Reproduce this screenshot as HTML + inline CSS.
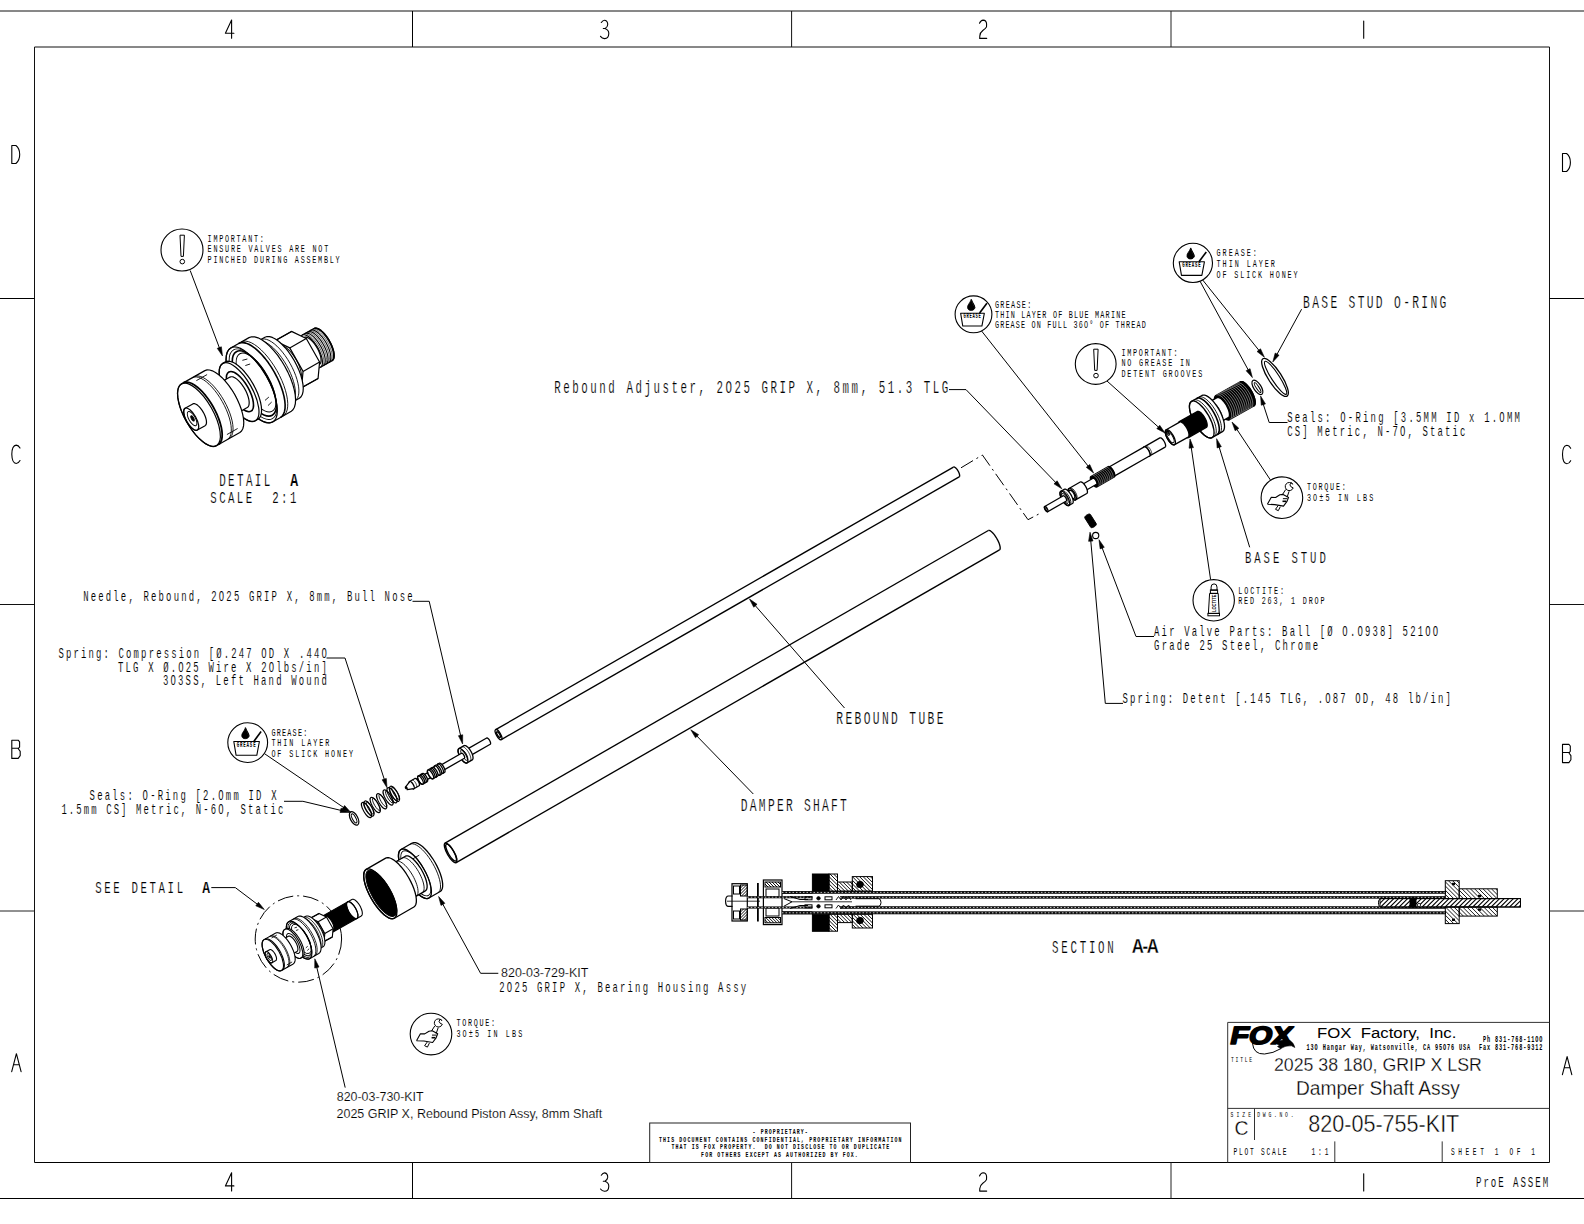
<!DOCTYPE html>
<html><head><meta charset="utf-8"><title>820-05-755-KIT</title>
<style>html,body{margin:0;padding:0;background:#fff;overflow:hidden}svg{display:block}text{white-space:pre}</style>
</head><body>
<svg width="1584" height="1224" viewBox="0 0 1584 1224">
<rect x="0" y="0" width="1584" height="1224" fill="#fff"/>
<g class="t">
<line x1="0" y1="11" x2="1584" y2="11" stroke="#111" stroke-width="1"/>
<line x1="0" y1="1198.5" x2="1584" y2="1198.5" stroke="#000" stroke-width="1"/>
<line x1="34.5" y1="47" x2="1549.5" y2="47" stroke="#111" stroke-width="1"/>
<line x1="34.5" y1="1162.5" x2="1549.5" y2="1162.5" stroke="#000" stroke-width="1"/>
<line x1="34.5" y1="47" x2="34.5" y2="1162.5" stroke="#111" stroke-width="1"/>
<line x1="1549.5" y1="47" x2="1549.5" y2="1162.5" stroke="#111" stroke-width="1"/>
<line x1="412.5" y1="11" x2="412.5" y2="47" stroke="#000" stroke-width="1"/>
<line x1="412.5" y1="1162.5" x2="412.5" y2="1198.5" stroke="#000" stroke-width="1"/>
<line x1="791.6" y1="11" x2="791.6" y2="47" stroke="#111" stroke-width="1"/>
<line x1="791.6" y1="1162.5" x2="791.6" y2="1198.5" stroke="#111" stroke-width="1"/>
<line x1="1171" y1="11" x2="1171" y2="47" stroke="#222" stroke-width="1"/>
<line x1="1171" y1="1162.5" x2="1171" y2="1198.5" stroke="#222" stroke-width="1"/>
<line x1="0" y1="298.5" x2="34.5" y2="298.5" stroke="#000" stroke-width="1"/>
<line x1="1549.5" y1="298.5" x2="1584" y2="298.5" stroke="#000" stroke-width="1"/>
<line x1="0" y1="604.5" x2="34.5" y2="604.5" stroke="#111" stroke-width="1"/>
<line x1="1549.5" y1="604.5" x2="1584" y2="604.5" stroke="#111" stroke-width="1"/>
<line x1="0" y1="911" x2="34.5" y2="911" stroke="#222" stroke-width="1"/>
<line x1="1549.5" y1="911" x2="1584" y2="911" stroke="#222" stroke-width="1"/>
<path d="M6.4,0.2 L0.2,13.3 L8.7,13.3 M6.4,0.2 L6.4,18.3" transform="translate(225.2 19.9)" stroke="#000" stroke-width="1.1" fill="none" stroke-linejoin="round" stroke-linecap="round"/>
<path d="M6.4,0.2 L0.2,13.3 L8.7,13.3 M6.4,0.2 L6.4,18.3" transform="translate(225.2 1172.6)" stroke="#000" stroke-width="1.1" fill="none" stroke-linejoin="round" stroke-linecap="round"/>
<path d="M1.0,2.6 Q2.6,0.2 4.4,0.3 Q7.6,1 7.4,4.8 Q7.1,7.6 4.6,8.6 L3.0,8.6 M4.6,8.6 Q8.6,10.2 8.5,13.6 Q8.3,18.8 4.2,18.7 Q1.8,18.5 0.2,16.4" transform="translate(600.3 19.9)" stroke="#000" stroke-width="1.1" fill="none" stroke-linejoin="round" stroke-linecap="round"/>
<path d="M1.0,2.6 Q2.6,0.2 4.4,0.3 Q7.6,1 7.4,4.8 Q7.1,7.6 4.6,8.6 L3.0,8.6 M4.6,8.6 Q8.6,10.2 8.5,13.6 Q8.3,18.8 4.2,18.7 Q1.8,18.5 0.2,16.4" transform="translate(600.3 1172.6)" stroke="#000" stroke-width="1.1" fill="none" stroke-linejoin="round" stroke-linecap="round"/>
<path d="M0.2,3.4 Q1.6,0.2 3.8,0.2 Q7.2,0.4 7.3,4.2 L7.2,7 Q6.6,8.6 3.5,10.6 Q0.6,12.8 0.5,16 L0.4,18.5 L7.4,18.5" transform="translate(979.3 19.9)" stroke="#000" stroke-width="1.1" fill="none" stroke-linejoin="round" stroke-linecap="round"/>
<path d="M0.2,3.4 Q1.6,0.2 3.8,0.2 Q7.2,0.4 7.3,4.2 L7.2,7 Q6.6,8.6 3.5,10.6 Q0.6,12.8 0.5,16 L0.4,18.5 L7.4,18.5" transform="translate(979.3 1172.6)" stroke="#000" stroke-width="1.1" fill="none" stroke-linejoin="round" stroke-linecap="round"/>
<path d="M0.3,1.2 L0.3,18.4" transform="translate(1363.4 19.9)" stroke="#000" stroke-width="1.1" fill="none" stroke-linejoin="round" stroke-linecap="round"/>
<path d="M0.3,1.2 L0.3,18.4" transform="translate(1363.4 1172.6)" stroke="#000" stroke-width="1.1" fill="none" stroke-linejoin="round" stroke-linecap="round"/>
<path d="M0.2,0.2 L0.2,18.2 L4.3,18.2 Q8.1,15.0 8.1,9.1 Q8.1,3.2 4.3,0.2 Z" transform="translate(11.6 145.3)" stroke="#000" stroke-width="1.1" fill="none" stroke-linejoin="round" stroke-linecap="round"/>
<path d="M0.2,0.2 L0.2,18.2 L4.3,18.2 Q8.1,15.0 8.1,9.1 Q8.1,3.2 4.3,0.2 Z" transform="translate(1562.3 153.3)" stroke="#000" stroke-width="1.1" fill="none" stroke-linejoin="round" stroke-linecap="round"/>
<path d="M8.4,3.2 Q6.8,0.2 4.6,0.2 Q0.3,0.6 0.2,9.4 Q0.4,18.4 4.6,18.6 Q6.8,18.6 8.4,15.6" transform="translate(11.6 444.9)" stroke="#000" stroke-width="1.1" fill="none" stroke-linejoin="round" stroke-linecap="round"/>
<path d="M8.4,3.2 Q6.8,0.2 4.6,0.2 Q0.3,0.6 0.2,9.4 Q0.4,18.4 4.6,18.6 Q6.8,18.6 8.4,15.6" transform="translate(1562.3 445.1)" stroke="#000" stroke-width="1.1" fill="none" stroke-linejoin="round" stroke-linecap="round"/>
<path d="M0.2,0.2 L0.2,18.4 L6.6,18.4 L8.6,15.6 L8.6,11.4 L6.7,8.8 L8.0,7.0 L8.0,1.8 L6.6,0.2 Z M0.2,8.3 L6.7,8.3" transform="translate(11.6 740)" stroke="#000" stroke-width="1.1" fill="none" stroke-linejoin="round" stroke-linecap="round"/>
<path d="M0.2,0.2 L0.2,18.4 L6.6,18.4 L8.6,15.6 L8.6,11.4 L6.7,8.8 L8.0,7.0 L8.0,1.8 L6.6,0.2 Z M0.2,8.3 L6.7,8.3" transform="translate(1562.3 744.2)" stroke="#000" stroke-width="1.1" fill="none" stroke-linejoin="round" stroke-linecap="round"/>
<path d="M0.1,18.2 L4.8,0.2 L9.5,18.2 M1.9,11.3 L7.7,11.3" transform="translate(11.6 1053.5)" stroke="#000" stroke-width="1.1" fill="none" stroke-linejoin="round" stroke-linecap="round"/>
<path d="M0.1,18.2 L4.8,0.2 L9.5,18.2 M1.9,11.3 L7.7,11.3" transform="translate(1562.3 1056.4)" stroke="#000" stroke-width="1.1" fill="none" stroke-linejoin="round" stroke-linecap="round"/>
<line x1="1227.7" y1="1022.4" x2="1549.5" y2="1022.4" stroke="#333" stroke-width="1"/>
<line x1="1227.7" y1="1022.4" x2="1227.7" y2="1162.5" stroke="#333" stroke-width="1"/>
<line x1="1227.7" y1="1108.4" x2="1549.5" y2="1108.4" stroke="#333" stroke-width="1"/>
<line x1="1254.5" y1="1108.4" x2="1254.5" y2="1140" stroke="#333" stroke-width="1"/>
<line x1="1334.8" y1="1141.4" x2="1334.8" y2="1162.5" stroke="#333" stroke-width="1"/>
<line x1="1442.2" y1="1141.4" x2="1442.2" y2="1162.5" stroke="#333" stroke-width="1"/>
<text x="0" y="0" transform="translate(1229 1043.6) skewX(-12) scale(1 1)" font-family="Liberation Sans" font-weight="bold" font-size="25" textLength="62" lengthAdjust="spacingAndGlyphs" fill="#000" stroke="#000" stroke-width="1.6" stroke-linejoin="round">FOX</text>
<path d="M1252.5,1043.5 Q1253.5,1054.5 1264.5,1054.0 Q1273,1053.5 1281,1048.6" stroke="#000" stroke-width="1" fill="none" stroke-linejoin="round" stroke-linecap="round"/>
<path d="M1276.5,1041.5 Q1286,1038.5 1290,1040.5 Q1294,1043 1294.8,1047.5 L1291.5,1045.8 Q1286,1045 1280.5,1048.6 L1277.5,1046.5 L1279.5,1045.2 L1276.8,1044.0 Z" stroke="#000" stroke-width="0.6" fill="#000" stroke-linejoin="round" stroke-linecap="round"/>
<text x="0" y="0" transform="translate(1317 1038.2) scale(1 1)" font-family="Liberation Sans" font-size="14.9" font-weight="normal" fill="#000" text-anchor="start" textLength="139.3" lengthAdjust="spacingAndGlyphs">FOX  Factory,  Inc.</text>
<text x="0" y="0" transform="translate(1483.1 1042.1) scale(0.62 1)" font-family="Liberation Mono" font-size="8.35" font-weight="bold" fill="#000" textLength="95.48" lengthAdjust="spacing">Ph 831-768-11OO</text>
<text x="0" y="0" transform="translate(1306.6 1050) scale(0.62 1)" font-family="Liberation Mono" font-size="8.35" font-weight="bold" fill="#000" textLength="380.16" lengthAdjust="spacing">13O Hangar Way, Watsonville, CA 95O76 USA  Fax 831-768-9312</text>
<text x="0" y="0" transform="translate(1231 1061.8) scale(0.62 1)" font-family="Liberation Mono" font-size="7.59" font-weight="normal" fill="#000" textLength="34.19" lengthAdjust="spacing">TITLE</text>
<text x="0" y="0" transform="translate(1273.9 1070.5) scale(0.92 1)" font-family="Liberation Sans" font-size="19.2" font-weight="normal" fill="#000" text-anchor="start" stroke="#fff" stroke-width="0.3" textLength="225.98" lengthAdjust="spacingAndGlyphs">2025 38 180, GRIP X LSR</text>
<text x="0" y="0" transform="translate(1296 1095) scale(0.92 1)" font-family="Liberation Sans" font-size="19.6" font-weight="normal" fill="#000" text-anchor="start" stroke="#fff" stroke-width="0.3" textLength="178.04" lengthAdjust="spacingAndGlyphs">Damper Shaft Assy</text>
<text x="0" y="0" transform="translate(1230.5 1116.6) scale(0.62 1)" font-family="Liberation Mono" font-size="7.59" font-weight="normal" fill="#000" textLength="33.06" lengthAdjust="spacing">SIZE</text>
<text x="0" y="0" transform="translate(1234.5 1135) scale(1 1)" font-family="Liberation Sans" font-size="19.4" font-weight="normal" fill="#000" text-anchor="start" stroke="#fff" stroke-width="0.3" textLength="14" lengthAdjust="spacingAndGlyphs">C</text>
<text x="0" y="0" transform="translate(1257.3 1116.6) scale(0.62 1)" font-family="Liberation Mono" font-size="7.59" font-weight="normal" fill="#000" textLength="58.39" lengthAdjust="spacing">DWG.NO.</text>
<text x="0" y="0" transform="translate(1308.3 1132) scale(0.92 1)" font-family="Liberation Sans" font-size="23.2" font-weight="normal" fill="#000" text-anchor="start" stroke="#fff" stroke-width="0.4" textLength="164.13" lengthAdjust="spacingAndGlyphs">820-05-755-KIT</text>
<text x="0" y="0" transform="translate(1233.6 1154.9) scale(0.62 1)" font-family="Liberation Mono" font-size="10.02" font-weight="normal" fill="#000" textLength="85.48" lengthAdjust="spacing">PLOT SCALE</text>
<text x="0" y="0" transform="translate(1311.4 1154.9) scale(0.62 1)" font-family="Liberation Mono" font-size="10.02" font-weight="normal" fill="#000" textLength="27.58" lengthAdjust="spacing">1:1</text>
<text x="0" y="0" transform="translate(1450.9 1154.9) scale(0.62 1)" font-family="Liberation Mono" font-size="10.02" font-weight="normal" fill="#000" textLength="135.81" lengthAdjust="spacing">SHEET 1 OF 1</text>
<text x="0" y="0" transform="translate(207.6 241.7) scale(0.62 1)" font-family="Liberation Mono" font-size="10.93" font-weight="normal" fill="#000" textLength="90.65" lengthAdjust="spacing" stroke="#fff" stroke-width="0.02">IMPORTANT:</text>
<text x="0" y="0" transform="translate(207.6 252.4) scale(0.62 1)" font-family="Liberation Mono" font-size="10.93" font-weight="normal" fill="#000" textLength="194.52" lengthAdjust="spacing" stroke="#fff" stroke-width="0.02">ENSURE VALVES ARE NOT</text>
<text x="0" y="0" transform="translate(207.6 263.3) scale(0.62 1)" font-family="Liberation Mono" font-size="10.93" font-weight="normal" fill="#000" textLength="212.9" lengthAdjust="spacing" stroke="#fff" stroke-width="0.02">PINCHED DURING ASSEMBLY</text>
<text x="0" y="0" transform="translate(219.2 486.1) scale(0.62 1)" font-family="Liberation Mono" font-size="17.6" font-weight="normal" fill="#000" textLength="82.42" lengthAdjust="spacing" stroke="#fff" stroke-width="0.19">DETAIL</text>
<text x="0" y="0" transform="translate(290.2 486.1) scale(0.75 1)" font-family="Liberation Mono" font-size="17.6" font-weight="bold" fill="#000" textLength="10.13" lengthAdjust="spacing" stroke="#fff" stroke-width="0.19">A</text>
<text x="0" y="0" transform="translate(210.3 502.8) scale(0.62 1)" font-family="Liberation Mono" font-size="17.3" font-weight="normal" fill="#000" textLength="138.87" lengthAdjust="spacing" stroke="#fff" stroke-width="0.18">SCALE  2:1</text>
<text x="0" y="0" transform="translate(554.3 392.5) scale(0.62 1)" font-family="Liberation Mono" font-size="17.45" font-weight="normal" fill="#000" textLength="635.32" lengthAdjust="spacing" stroke="#fff" stroke-width="0.19">Rebound Adjuster, 2O25 GRIP X, 8mm, 51.3 TLG</text>
<text x="0" y="0" transform="translate(994.9 308.2) scale(0.62 1)" font-family="Liberation Mono" font-size="10.93" font-weight="normal" fill="#000" textLength="58.71" lengthAdjust="spacing" stroke="#fff" stroke-width="0.02">GREASE:</text>
<text x="0" y="0" transform="translate(994.9 318.1) scale(0.62 1)" font-family="Liberation Mono" font-size="10.93" font-weight="normal" fill="#000" textLength="210.65" lengthAdjust="spacing" stroke="#fff" stroke-width="0.02">THIN LAYER OF BLUE MARINE</text>
<text x="0" y="0" transform="translate(994.9 328) scale(0.62 1)" font-family="Liberation Mono" font-size="10.93" font-weight="normal" fill="#000" textLength="243.23" lengthAdjust="spacing" stroke="#fff" stroke-width="0.02">GREASE ON FULL 36O° OF THREAD</text>
<text x="0" y="0" transform="translate(1121.4 355.9) scale(0.62 1)" font-family="Liberation Mono" font-size="10.93" font-weight="normal" fill="#000" textLength="90.48" lengthAdjust="spacing" stroke="#fff" stroke-width="0.02">IMPORTANT:</text>
<text x="0" y="0" transform="translate(1121.4 366.4) scale(0.62 1)" font-family="Liberation Mono" font-size="10.93" font-weight="normal" fill="#000" textLength="110.32" lengthAdjust="spacing" stroke="#fff" stroke-width="0.02">NO GREASE IN</text>
<text x="0" y="0" transform="translate(1121.4 377.3) scale(0.62 1)" font-family="Liberation Mono" font-size="10.93" font-weight="normal" fill="#000" textLength="130.32" lengthAdjust="spacing" stroke="#fff" stroke-width="0.02">DETENT GROOVES</text>
<text x="0" y="0" transform="translate(1216.6 255.9) scale(0.62 1)" font-family="Liberation Mono" font-size="10.93" font-weight="normal" fill="#000" textLength="64.84" lengthAdjust="spacing" stroke="#fff" stroke-width="0.02">GREASE:</text>
<text x="0" y="0" transform="translate(1216.6 266.7) scale(0.62 1)" font-family="Liberation Mono" font-size="10.93" font-weight="normal" fill="#000" textLength="93.87" lengthAdjust="spacing" stroke="#fff" stroke-width="0.02">THIN LAYER</text>
<text x="0" y="0" transform="translate(1216.6 277.5) scale(0.62 1)" font-family="Liberation Mono" font-size="10.93" font-weight="normal" fill="#000" textLength="130.65" lengthAdjust="spacing" stroke="#fff" stroke-width="0.02">OF SLICK HONEY</text>
<text x="0" y="0" transform="translate(1303.1 307.5) scale(0.62 1)" font-family="Liberation Mono" font-size="18.21" font-weight="normal" fill="#000" textLength="230.97" lengthAdjust="spacing" stroke="#fff" stroke-width="0.21">BASE STUD O-RING</text>
<text x="0" y="0" transform="translate(1287.2 421.6) scale(0.62 1)" font-family="Liberation Mono" font-size="14.42" font-weight="normal" fill="#000" textLength="375.32" lengthAdjust="spacing" stroke="#fff" stroke-width="0.11">Seals: O-Ring [3.5MM ID x 1.OMM</text>
<text x="0" y="0" transform="translate(1287.2 435.8) scale(0.62 1)" font-family="Liberation Mono" font-size="14.42" font-weight="normal" fill="#000" textLength="287.58" lengthAdjust="spacing" stroke="#fff" stroke-width="0.11">CS] Metric, N-7O, Static</text>
<text x="0" y="0" transform="translate(1306.9 489.7) scale(0.62 1)" font-family="Liberation Mono" font-size="10.93" font-weight="normal" fill="#000" textLength="62.74" lengthAdjust="spacing" stroke="#fff" stroke-width="0.02">TORQUE:</text>
<text x="0" y="0" transform="translate(1306.9 500.6) scale(0.62 1)" font-family="Liberation Mono" font-size="10.93" font-weight="normal" fill="#000" textLength="106.94" lengthAdjust="spacing" stroke="#fff" stroke-width="0.02">3O±5 IN LBS</text>
<text x="0" y="0" transform="translate(1245 563.2) scale(0.62 1)" font-family="Liberation Mono" font-size="17.15" font-weight="normal" fill="#000" textLength="130.32" lengthAdjust="spacing" stroke="#fff" stroke-width="0.18">BASE STUD</text>
<text x="0" y="0" transform="translate(1238.2 593.5) scale(0.62 1)" font-family="Liberation Mono" font-size="10.93" font-weight="normal" fill="#000" textLength="74.03" lengthAdjust="spacing" stroke="#fff" stroke-width="0.02">LOCTITE:</text>
<text x="0" y="0" transform="translate(1238.2 604.1) scale(0.62 1)" font-family="Liberation Mono" font-size="10.93" font-weight="normal" fill="#000" textLength="139.19" lengthAdjust="spacing" stroke="#fff" stroke-width="0.02">RED 263, 1 DROP</text>
<text x="0" y="0" transform="translate(1154.1 635.7) scale(0.62 1)" font-family="Liberation Mono" font-size="14.42" font-weight="normal" fill="#000" textLength="458.06" lengthAdjust="spacing" stroke="#fff" stroke-width="0.11">Air Valve Parts: Ball [Ø O.O938] 521OO</text>
<text x="0" y="0" transform="translate(1154.1 649.6) scale(0.62 1)" font-family="Liberation Mono" font-size="14.42" font-weight="normal" fill="#000" textLength="264.68" lengthAdjust="spacing" stroke="#fff" stroke-width="0.11">Grade 25 Steel, Chrome</text>
<text x="0" y="0" transform="translate(1122.6 702.6) scale(0.62 1)" font-family="Liberation Mono" font-size="14.42" font-weight="normal" fill="#000" textLength="529.35" lengthAdjust="spacing" stroke="#fff" stroke-width="0.11">Spring: Detent [.145 TLG, .O87 OD, 48 lb/in]</text>
<text x="0" y="0" transform="translate(836.3 724.1) scale(0.62 1)" font-family="Liberation Mono" font-size="18.21" font-weight="normal" fill="#000" textLength="172.9" lengthAdjust="spacing" stroke="#fff" stroke-width="0.21">REBOUND TUBE</text>
<text x="0" y="0" transform="translate(740.8 810.5) scale(0.62 1)" font-family="Liberation Mono" font-size="18.21" font-weight="normal" fill="#000" textLength="171.13" lengthAdjust="spacing" stroke="#fff" stroke-width="0.21">DAMPER SHAFT</text>
<text x="0" y="0" transform="translate(83.2 600.9) scale(0.62 1)" font-family="Liberation Mono" font-size="14.42" font-weight="normal" fill="#000" textLength="531.29" lengthAdjust="spacing" stroke="#fff" stroke-width="0.11">Needle, Rebound, 2O25 GRIP X, 8mm, Bull Nose</text>
<text x="0" y="0" transform="translate(58.5 657.5) scale(0.62 1)" font-family="Liberation Mono" font-size="14.42" font-weight="normal" fill="#000" textLength="432.74" lengthAdjust="spacing" stroke="#fff" stroke-width="0.11">Spring: Compression [Ø.247 OD X .44O</text>
<text x="0" y="0" transform="translate(118 671.5) scale(0.62 1)" font-family="Liberation Mono" font-size="14.42" font-weight="normal" fill="#000" textLength="336.77" lengthAdjust="spacing" stroke="#fff" stroke-width="0.11">TLG X Ø.O25 Wire X 2Olbs/in]</text>
<text x="0" y="0" transform="translate(163 685.4) scale(0.62 1)" font-family="Liberation Mono" font-size="14.42" font-weight="normal" fill="#000" textLength="264.19" lengthAdjust="spacing" stroke="#fff" stroke-width="0.11">3O3SS, Left Hand Wound</text>
<text x="0" y="0" transform="translate(271.4 736) scale(0.62 1)" font-family="Liberation Mono" font-size="10.93" font-weight="normal" fill="#000" textLength="57.9" lengthAdjust="spacing" stroke="#fff" stroke-width="0.02">GREASE:</text>
<text x="0" y="0" transform="translate(271.4 746.4) scale(0.62 1)" font-family="Liberation Mono" font-size="10.93" font-weight="normal" fill="#000" textLength="93.39" lengthAdjust="spacing" stroke="#fff" stroke-width="0.02">THIN LAYER</text>
<text x="0" y="0" transform="translate(271.4 757.2) scale(0.62 1)" font-family="Liberation Mono" font-size="10.93" font-weight="normal" fill="#000" textLength="131.61" lengthAdjust="spacing" stroke="#fff" stroke-width="0.02">OF SLICK HONEY</text>
<text x="0" y="0" transform="translate(89.6 799.9) scale(0.62 1)" font-family="Liberation Mono" font-size="14.42" font-weight="normal" fill="#000" textLength="301.61" lengthAdjust="spacing" stroke="#fff" stroke-width="0.11">Seals: O-Ring [2.Omm ID X</text>
<text x="0" y="0" transform="translate(61.4 814) scale(0.62 1)" font-family="Liberation Mono" font-size="14.42" font-weight="normal" fill="#000" textLength="357.9" lengthAdjust="spacing" stroke="#fff" stroke-width="0.11">1.5mm CS] Metric, N-6O, Static</text>
<text x="0" y="0" transform="translate(95.3 893.1) scale(0.62 1)" font-family="Liberation Mono" font-size="17.3" font-weight="normal" fill="#000" textLength="141.61" lengthAdjust="spacing" stroke="#fff" stroke-width="0.18">SEE DETAIL</text>
<text x="0" y="0" transform="translate(202.2 893.1) scale(0.75 1)" font-family="Liberation Mono" font-size="17.3" font-weight="bold" fill="#000" textLength="10.4" lengthAdjust="spacing" stroke="#fff" stroke-width="0.18">A</text>
<text x="0" y="0" transform="translate(501 976.6) scale(1 1)" font-family="Liberation Sans" font-size="12.6" font-weight="normal" fill="#000" text-anchor="start" stroke="#fff" stroke-width="0.15" textLength="87.4" lengthAdjust="spacingAndGlyphs">820-03-729-KIT</text>
<text x="0" y="0" transform="translate(499.3 992.3) scale(0.62 1)" font-family="Liberation Mono" font-size="14.42" font-weight="normal" fill="#000" textLength="398.06" lengthAdjust="spacing" stroke="#fff" stroke-width="0.11">2O25 GRIP X, Bearing Housing Assy</text>
<text x="0" y="0" transform="translate(456.4 1026) scale(0.62 1)" font-family="Liberation Mono" font-size="10.93" font-weight="normal" fill="#000" textLength="62.26" lengthAdjust="spacing" stroke="#fff" stroke-width="0.02">TORQUE:</text>
<text x="0" y="0" transform="translate(456.4 1036.8) scale(0.62 1)" font-family="Liberation Mono" font-size="10.93" font-weight="normal" fill="#000" textLength="106.13" lengthAdjust="spacing" stroke="#fff" stroke-width="0.02">3O±5 IN LBS</text>
<text x="0" y="0" transform="translate(336.8 1101.4) scale(1 1)" font-family="Liberation Sans" font-size="12.6" font-weight="normal" fill="#000" text-anchor="start" stroke="#fff" stroke-width="0.15" textLength="86.8" lengthAdjust="spacingAndGlyphs">820-03-730-KIT</text>
<text x="0" y="0" transform="translate(336.5 1118.3) scale(1 1)" font-family="Liberation Sans" font-size="12.6" font-weight="normal" fill="#000" text-anchor="start" stroke="#fff" stroke-width="0.15" textLength="265.8" lengthAdjust="spacingAndGlyphs">2025 GRIP X, Rebound Piston Assy, 8mm Shaft</text>
<text x="0" y="0" transform="translate(1052 952.5) scale(0.62 1)" font-family="Liberation Mono" font-size="17.45" font-weight="normal" fill="#000" textLength="99.68" lengthAdjust="spacing" stroke="#fff" stroke-width="0.19">SECTION</text>
<text x="0" y="0" transform="translate(1131.8 952.5) scale(0.8 1)" font-family="Liberation Sans" font-size="20.93" font-weight="bold" fill="#000" textLength="33.75" lengthAdjust="spacing" stroke="#fff" stroke-width="0.27">A-A</text>
<rect x="649.7" y="1123" width="260.8" height="39.5" stroke="#222" stroke-width="1" fill="none"/>
<text x="0" y="0" transform="translate(752.6 1133.9) scale(0.62 1)" font-family="Liberation Mono" font-size="7.89" font-weight="bold" fill="#000" textLength="89.03" lengthAdjust="spacing">- PROPRIETARY-</text>
<text x="0" y="0" transform="translate(659 1141.5) scale(0.62 1)" font-family="Liberation Mono" font-size="7.89" font-weight="bold" fill="#000" textLength="391.13" lengthAdjust="spacing">THIS DOCUMENT CONTAINS CONFIDENTIAL, PROPRIETARY INFORMATION</text>
<text x="0" y="0" transform="translate(671.4 1149.2) scale(0.62 1)" font-family="Liberation Mono" font-size="7.89" font-weight="bold" fill="#000" textLength="351.29" lengthAdjust="spacing">THAT IS FOX PROPERTY.  DO NOT DISCLOSE TO OR DUPLICATE</text>
<text x="0" y="0" transform="translate(701.1 1156.5) scale(0.62 1)" font-family="Liberation Mono" font-size="7.89" font-weight="bold" fill="#000" textLength="252.74" lengthAdjust="spacing">FOR OTHERS EXCEPT AS AUTHORIZED BY FOX.</text>
<text x="0" y="0" transform="translate(1476 1186.8) scale(0.62 1)" font-family="Liberation Mono" font-size="14.72" font-weight="normal" fill="#000" textLength="116.29" lengthAdjust="spacing" stroke="#fff" stroke-width="0.12">ProE ASSEM</text>
<circle cx="182" cy="250" r="21" stroke="#000" stroke-width="1.1" fill="none"/>
<polygon points="180,235.2 184.4,235.2 183.4,256.4 181,256.4" stroke="#000" stroke-width="1" fill="none" stroke-linejoin="round"/>
<circle cx="182.3" cy="261.6" r="2.3" stroke="#000" stroke-width="1" fill="none"/>
<line x1="190.2" y1="270.5" x2="219.67" y2="348.52" stroke="#000" stroke-width="1"/>
<polygon points="222.5,356 217.26,348.36 221.38,346.8" stroke="#000" stroke-width="0.6" fill="#000" stroke-linejoin="round"/>
<circle cx="973.5" cy="314.3" r="18.4" stroke="#000" stroke-width="1.1" fill="none"/>
<path d="M971.2,299.7 C969.7,303.7 967.2,304.7 967.6,307.9 C968,311.3 974.4,311.3 974.8,307.9 Z" stroke="#000" stroke-width="0.8" fill="#000" stroke-linejoin="round" stroke-linecap="round"/>
<path d="M974.8,307.9 C975.2,304.7 972.7,303.7 971.2,299.7" stroke="#000" stroke-width="0.8" fill="#000" stroke-linejoin="round" stroke-linecap="round"/>
<line x1="979.6" y1="313.1" x2="986.9" y2="303.3" stroke="#000" stroke-width="1.6"/>
<polygon points="960.65,313.28 984.32,313.28 981.91,326.04 962.77,326.04" stroke="#000" stroke-width="1.1" fill="none" stroke-linejoin="round"/>
<text x="0" y="0" transform="translate(963.42 318.28) scale(0.55 1)" font-family="Liberation Mono" font-size="6.88" font-weight="bold" fill="#000" textLength="31.61" lengthAdjust="spacing">GREASE</text>
<line x1="981.6" y1="331" x2="1088.65" y2="466.72" stroke="#000" stroke-width="1"/>
<polygon points="1093.6,473 1086.3,467.3 1089.75,464.57" stroke="#000" stroke-width="0.6" fill="#000" stroke-linejoin="round"/>
<circle cx="1095.7" cy="364" r="20.4" stroke="#000" stroke-width="1.1" fill="none"/>
<polygon points="1093.7,349.2 1098.1,349.2 1097.1,370.4 1094.7,370.4" stroke="#000" stroke-width="1" fill="none" stroke-linejoin="round"/>
<circle cx="1096" cy="375.6" r="2.3" stroke="#000" stroke-width="1" fill="none"/>
<line x1="1107" y1="381" x2="1159.04" y2="427.66" stroke="#000" stroke-width="1"/>
<polygon points="1165,433 1156.83,428.63 1159.77,425.35" stroke="#000" stroke-width="0.6" fill="#000" stroke-linejoin="round"/>
<circle cx="1192.9" cy="262.9" r="19.6" stroke="#000" stroke-width="1.1" fill="none"/>
<path d="M1190.6,248.3 C1189.1,252.3 1186.6,253.3 1187,256.5 C1187.4,259.9 1193.8,259.9 1194.2,256.5 Z" stroke="#000" stroke-width="0.8" fill="#000" stroke-linejoin="round" stroke-linecap="round"/>
<path d="M1194.2,256.5 C1194.6,253.3 1192.1,252.3 1190.6,248.3" stroke="#000" stroke-width="0.8" fill="#000" stroke-linejoin="round" stroke-linecap="round"/>
<line x1="1199" y1="261.7" x2="1206.3" y2="251.9" stroke="#000" stroke-width="1.6"/>
<polygon points="1179.21,261.82 1204.42,261.82 1201.86,275.41 1181.47,275.41" stroke="#000" stroke-width="1.1" fill="none" stroke-linejoin="round"/>
<text x="0" y="0" transform="translate(1182.16 267.14) scale(0.55 1)" font-family="Liberation Mono" font-size="7.32" font-weight="bold" fill="#000" textLength="33.67" lengthAdjust="spacing">GREASE</text>
<line x1="1202.7" y1="280" x2="1259.41" y2="350.95" stroke="#000" stroke-width="1"/>
<polygon points="1264.4,357.2 1257.06,351.54 1260.5,348.8" stroke="#000" stroke-width="0.6" fill="#000" stroke-linejoin="round"/>
<line x1="1200.2" y1="281.5" x2="1248.58" y2="370.57" stroke="#000" stroke-width="1"/>
<polygon points="1252.4,377.6 1246.17,370.74 1250.04,368.64" stroke="#000" stroke-width="0.6" fill="#000" stroke-linejoin="round"/>
<circle cx="1281.9" cy="497.7" r="20.8" stroke="#000" stroke-width="1.1" fill="none"/>
<path d="M1292.5,483.9 A4.1,4.1 0 1 0 1293.2,487.9 L1291.1,486.9 L1289.9,484.9 L1291.1,482.9 Z" stroke="#000" stroke-width="1" fill="none" stroke-linejoin="round" stroke-linecap="round"/>
<polyline points="1285.7,489.5 1282.5,494.5" stroke="#000" stroke-width="1" fill="none" stroke-linejoin="round"/>
<polyline points="1289.1,491.3 1287.1,497.1" stroke="#000" stroke-width="1" fill="none" stroke-linejoin="round"/>
<polyline points="1267.4,504.3 1271.3,497.3 1275.6,497.5 1279.9,494.8 1283.1,494.4 1288.6,497.4 1287,501.4 1283.5,506.1 1274.8,504.6 1267.4,504.3" stroke="#000" stroke-width="1.1" fill="none" stroke-linejoin="round"/>
<line x1="1282.9" y1="498.7" x2="1287.5" y2="498.7" stroke="#000" stroke-width="1"/>
<line x1="1282.5" y1="501.3" x2="1286.3" y2="501.3" stroke="#000" stroke-width="1.6"/>
<polyline points="1278.1,505.7 1275.5,509.3 1278.3,510.7 1280.3,506.7" stroke="#000" stroke-width="1" fill="none" stroke-linejoin="round"/>
<line x1="1270.7" y1="480.4" x2="1236.42" y2="428.67" stroke="#000" stroke-width="1"/>
<polygon points="1232,422 1238.81,428.29 1235.14,430.72" stroke="#000" stroke-width="0.6" fill="#000" stroke-linejoin="round"/>
<circle cx="1213.7" cy="600.3" r="20.7" stroke="#000" stroke-width="1.1" fill="none"/>
<path d="M1211.1,589.9 L1211.1,587.1 A2.95,3.2 0 0 1 1217,587.1 L1217,589.9 Z" stroke="#000" stroke-width="1" fill="none" stroke-linejoin="round" stroke-linecap="round"/>
<rect x="1210.4" y="589.9" width="7.2" height="3.5" stroke="#000" stroke-width="1" fill="none"/>
<polygon points="1209.6,593.4 1218.2,593.4 1219.2,613.4 1208.4,613.4" stroke="#000" stroke-width="1" fill="none" stroke-linejoin="round"/>
<rect x="1207.9" y="613.4" width="11.6" height="2.4" stroke="#000" stroke-width="1" fill="none"/>
<text x="0" y="0" transform="translate(1215.7 612.1) rotate(-90) scale(0.7 1)" font-family="Liberation Sans" font-size="5.2" font-weight="bold" textLength="25" lengthAdjust="spacingAndGlyphs">LOCTITE</text>
<line x1="1210.6" y1="579.6" x2="1191.16" y2="446.92" stroke="#000" stroke-width="1"/>
<polygon points="1190,439 1193.48,447.59 1189.13,448.22" stroke="#000" stroke-width="0.6" fill="#000" stroke-linejoin="round"/>
<circle cx="247.7" cy="742.6" r="19.9" stroke="#000" stroke-width="1.1" fill="none"/>
<path d="M245.4,728 C243.9,732 241.4,733 241.8,736.2 C242.2,739.6 248.6,739.6 249,736.2 Z" stroke="#000" stroke-width="0.8" fill="#000" stroke-linejoin="round" stroke-linecap="round"/>
<path d="M249,736.2 C249.4,733 246.9,732 245.4,728" stroke="#000" stroke-width="0.8" fill="#000" stroke-linejoin="round" stroke-linecap="round"/>
<line x1="253.8" y1="741.4" x2="261.1" y2="731.6" stroke="#000" stroke-width="1.6"/>
<polygon points="233.8,741.5 259.4,741.5 256.8,755.3 236.1,755.3" stroke="#000" stroke-width="1.1" fill="none" stroke-linejoin="round"/>
<text x="0" y="0" transform="translate(236.8 746.9) scale(0.55 1)" font-family="Liberation Mono" font-size="7.44" font-weight="bold" fill="#000" textLength="34.18" lengthAdjust="spacing">GREASE</text>
<line x1="265" y1="754" x2="344.19" y2="807.9" stroke="#000" stroke-width="1"/>
<polygon points="350.8,812.4 342.12,809.15 344.6,805.52" stroke="#000" stroke-width="0.6" fill="#000" stroke-linejoin="round"/>
<circle cx="431" cy="1034.1" r="20.8" stroke="#000" stroke-width="1.1" fill="none"/>
<path d="M441.6,1020.3 A4.1,4.1 0 1 0 442.3,1024.3 L440.2,1023.3 L439,1021.3 L440.2,1019.3 Z" stroke="#000" stroke-width="1" fill="none" stroke-linejoin="round" stroke-linecap="round"/>
<polyline points="434.8,1025.9 431.6,1030.9" stroke="#000" stroke-width="1" fill="none" stroke-linejoin="round"/>
<polyline points="438.2,1027.7 436.2,1033.5" stroke="#000" stroke-width="1" fill="none" stroke-linejoin="round"/>
<polyline points="416.5,1040.7 420.4,1033.7 424.7,1033.9 429,1031.2 432.2,1030.8 437.7,1033.8 436.1,1037.8 432.6,1042.5 423.9,1041 416.5,1040.7" stroke="#000" stroke-width="1.1" fill="none" stroke-linejoin="round"/>
<line x1="432" y1="1035.1" x2="436.6" y2="1035.1" stroke="#000" stroke-width="1"/>
<line x1="431.6" y1="1037.7" x2="435.4" y2="1037.7" stroke="#000" stroke-width="1.6"/>
<polyline points="427.2,1042.1 424.6,1045.7 427.4,1047.1 429.4,1043.1" stroke="#000" stroke-width="1" fill="none" stroke-linejoin="round"/>
<line x1="1301.6" y1="309.2" x2="1276.63" y2="354.98" stroke="#000" stroke-width="1"/>
<polygon points="1272.8,362 1275.18,353.05 1279.04,355.15" stroke="#000" stroke-width="0.6" fill="#000" stroke-linejoin="round"/>
<polyline points="1287.5,422.5 1269.2,422.5" stroke="#000" stroke-width="1" fill="none" stroke-linejoin="round"/>
<line x1="1269.2" y1="422.5" x2="1263.07" y2="403.61" stroke="#000" stroke-width="1"/>
<polygon points="1260.6,396 1265.47,403.88 1261.29,405.24" stroke="#000" stroke-width="0.6" fill="#000" stroke-linejoin="round"/>
<line x1="1249.7" y1="547.3" x2="1218.93" y2="446.35" stroke="#000" stroke-width="1"/>
<polygon points="1216.6,438.7 1221.33,446.67 1217.12,447.95" stroke="#000" stroke-width="0.6" fill="#000" stroke-linejoin="round"/>
<polyline points="1154,636.5 1136,636.5" stroke="#000" stroke-width="1" fill="none" stroke-linejoin="round"/>
<line x1="1136" y1="636.5" x2="1101.86" y2="547.17" stroke="#000" stroke-width="1"/>
<polygon points="1099,539.7 1104.27,547.32 1100.16,548.89" stroke="#000" stroke-width="0.6" fill="#000" stroke-linejoin="round"/>
<polyline points="1123,703.4 1105.3,703.4" stroke="#000" stroke-width="1" fill="none" stroke-linejoin="round"/>
<line x1="1105.3" y1="703.4" x2="1090.71" y2="540.17" stroke="#000" stroke-width="1"/>
<polygon points="1090,532.2 1092.99,540.97 1088.61,541.36" stroke="#000" stroke-width="0.6" fill="#000" stroke-linejoin="round"/>
<polyline points="949,389.6 966,389.6" stroke="#000" stroke-width="1" fill="none" stroke-linejoin="round"/>
<line x1="966" y1="389.6" x2="1056.24" y2="483.05" stroke="#000" stroke-width="1"/>
<polygon points="1061.8,488.8 1053.97,483.85 1057.13,480.8" stroke="#000" stroke-width="0.6" fill="#000" stroke-linejoin="round"/>
<line x1="844.5" y1="708" x2="754.76" y2="605.03" stroke="#000" stroke-width="1"/>
<polygon points="749.5,599 757.07,604.34 753.75,607.23" stroke="#000" stroke-width="0.6" fill="#000" stroke-linejoin="round"/>
<line x1="753.3" y1="794" x2="696.38" y2="735.53" stroke="#000" stroke-width="1"/>
<polygon points="690.8,729.8 698.65,734.71 695.5,737.78" stroke="#000" stroke-width="0.6" fill="#000" stroke-linejoin="round"/>
<polyline points="412.5,601.3 429.2,601.3" stroke="#000" stroke-width="1" fill="none" stroke-linejoin="round"/>
<line x1="429.2" y1="601.3" x2="460.78" y2="736.21" stroke="#000" stroke-width="1"/>
<polygon points="462.6,744 458.41,735.74 462.69,734.74" stroke="#000" stroke-width="0.6" fill="#000" stroke-linejoin="round"/>
<polyline points="326.5,658 345,658" stroke="#000" stroke-width="1" fill="none" stroke-linejoin="round"/>
<line x1="345" y1="658" x2="384.54" y2="780.09" stroke="#000" stroke-width="1"/>
<polygon points="387,787.7 382.13,779.82 386.32,778.46" stroke="#000" stroke-width="0.6" fill="#000" stroke-linejoin="round"/>
<polyline points="284,801.3 302.9,801.3" stroke="#000" stroke-width="1" fill="none" stroke-linejoin="round"/>
<line x1="302.9" y1="801.3" x2="341.52" y2="810.54" stroke="#000" stroke-width="1"/>
<polygon points="349.3,812.4 340.04,812.45 341.06,808.17" stroke="#000" stroke-width="0.6" fill="#000" stroke-linejoin="round"/>
<polyline points="211.3,887.6 235.3,887.6" stroke="#000" stroke-width="1" fill="none" stroke-linejoin="round"/>
<line x1="235.3" y1="887.6" x2="257.92" y2="904.68" stroke="#000" stroke-width="1"/>
<polygon points="264.3,909.5 255.79,905.83 258.44,902.32" stroke="#000" stroke-width="0.6" fill="#000" stroke-linejoin="round"/>
<polyline points="498.3,973.3 480.6,973.3" stroke="#000" stroke-width="1" fill="none" stroke-linejoin="round"/>
<line x1="480.6" y1="973.3" x2="442.44" y2="903.52" stroke="#000" stroke-width="1"/>
<polygon points="438.6,896.5 444.85,903.34 440.99,905.45" stroke="#000" stroke-width="0.6" fill="#000" stroke-linejoin="round"/>
<line x1="345.2" y1="1087.6" x2="316.64" y2="966.59" stroke="#000" stroke-width="1"/>
<polygon points="314.8,958.8 319.01,967.05 314.73,968.06" stroke="#000" stroke-width="0.6" fill="#000" stroke-linejoin="round"/>
<line x1="501.34" y1="739.54" x2="959.14" y2="476.94" stroke="#000" stroke-width="1.35"/>
<line x1="495.66" y1="729.66" x2="953.46" y2="467.06" stroke="#000" stroke-width="1.35"/>
<ellipse cx="0" cy="0" rx="5.7" ry="2.05" transform="translate(498.5 734.6) rotate(60.16)" stroke="#000" stroke-width="1.35" fill="none"/>
<polyline points="959.14,476.94 959.34,476.77 959.5,476.51 959.6,476.18 959.65,475.77 959.63,475.3 959.56,474.77 959.44,474.2 959.26,473.59 959.03,472.95 958.75,472.29 958.43,471.63 958.08,470.98 957.69,470.34 957.29,469.73 956.86,469.16 956.42,468.64 955.99,468.18 955.55,467.78 955.13,467.46 954.73,467.21 954.36,467.04 954.02,466.96 953.72,466.96 953.46,467.06" stroke="#000" stroke-width="1.35" fill="none" stroke-linejoin="round"/>
<ellipse cx="0" cy="0" rx="3.2" ry="1.15" transform="translate(498.5 734.6) rotate(60.16)" stroke="#000" stroke-width="1.35" fill="none"/>
<line x1="456.19" y1="862.61" x2="999.49" y2="549.91" stroke="#000" stroke-width="1.35"/>
<line x1="445.01" y1="843.19" x2="988.31" y2="530.49" stroke="#000" stroke-width="1.35"/>
<ellipse cx="0" cy="0" rx="11.2" ry="3.36" transform="translate(450.6 852.9) rotate(60.08)" stroke="#000" stroke-width="1.35" fill="none"/>
<polyline points="999.49,549.91 999.82,549.61 1000.05,549.14 1000.18,548.53 1000.19,547.77 1000.11,546.88 999.91,545.88 999.61,544.78 999.22,543.6 998.73,542.37 998.16,541.09 997.52,539.81 996.81,538.52 996.06,537.27 995.27,536.07 994.45,534.94 993.63,533.89 992.81,532.96 992.01,532.15 991.24,531.48 990.52,530.96 989.85,530.59 989.26,530.39 988.74,530.36 988.31,530.49" stroke="#000" stroke-width="1.35" fill="none" stroke-linejoin="round"/>
<ellipse cx="0" cy="0" rx="9.6" ry="2.88" transform="translate(451.12 852.6) rotate(60.08)" stroke="#000" stroke-width="1.35" fill="none"/>
<polygon points="1144.22,446.84 1143.98,447.05 1143.81,447.37 1143.71,447.79 1143.69,448.31 1143.75,448.89 1143.89,449.54 1144.1,450.24 1144.38,450.97 1144.71,451.71 1145.11,452.44 1145.54,453.15 1146.01,453.81 1146.49,454.42 1146.99,454.95 1147.48,455.4 1147.96,455.75 1148.41,455.99 1148.82,456.12 1149.18,456.14 1149.49,456.04 1165.11,447.09 1165.35,446.88 1165.52,446.55 1165.61,446.13 1165.63,445.62 1165.57,445.03 1165.43,444.38 1165.22,443.69 1164.95,442.96 1164.61,442.22 1164.22,441.49 1163.79,440.78 1163.32,440.12 1162.83,439.51 1162.34,438.98 1161.84,438.53 1161.37,438.18 1160.92,437.94 1160.51,437.81 1160.14,437.79 1159.84,437.89" stroke="#000" stroke-width="1.3" fill="#fff" stroke-linejoin="round"/>
<ellipse cx="0" cy="0" rx="5.3" ry="2.01" transform="translate(1146.85 451.44) rotate(60.19)" stroke="#000" stroke-width="1.3" fill="none"/>
<polyline points="1149.49,456.04 1149.69,455.87 1149.85,455.62 1149.96,455.3 1150.01,454.92 1150.01,454.48 1149.95,453.98 1149.84,453.44 1149.68,452.87 1149.48,452.27 1149.22,451.66 1148.93,451.05 1148.6,450.44 1148.24,449.84 1147.86,449.28 1147.46,448.75 1147.05,448.27 1146.64,447.84 1146.23,447.48 1145.83,447.18 1145.45,446.95 1145.09,446.81 1144.76,446.74 1144.47,446.75 1144.22,446.84" stroke="#000" stroke-width="1.3" fill="none" stroke-linejoin="round"/>
<polyline points="1151.22,455.04 1151.43,454.87 1151.59,454.63 1151.69,454.31 1151.74,453.93 1151.74,453.48 1151.69,452.99 1151.58,452.45 1151.42,451.88 1151.21,451.28 1150.96,450.67 1150.67,450.05 1150.34,449.44 1149.98,448.85 1149.59,448.29 1149.19,447.76 1148.78,447.28 1148.37,446.85 1147.96,446.48 1147.56,446.19 1147.18,445.96 1146.82,445.81 1146.5,445.74 1146.2,445.75 1145.95,445.84" stroke="#000" stroke-width="0.8" fill="none" stroke-linejoin="round"/>
<polygon points="1108.64,467.22 1108.4,467.43 1108.23,467.75 1108.14,468.18 1108.12,468.69 1108.18,469.27 1108.32,469.93 1108.52,470.62 1108.8,471.35 1109.14,472.09 1109.53,472.82 1109.96,473.53 1110.43,474.19 1110.92,474.8 1111.41,475.33 1111.9,475.78 1112.38,476.13 1112.83,476.37 1113.24,476.5 1113.61,476.52 1113.91,476.42 1149.49,456.04 1149.73,455.82 1149.9,455.5 1149.99,455.08 1150.01,454.57 1149.95,453.98 1149.82,453.33 1149.61,452.63 1149.33,451.91 1148.99,451.17 1148.6,450.44 1148.17,449.73 1147.7,449.06 1147.21,448.46 1146.72,447.92 1146.23,447.48 1145.75,447.13 1145.3,446.89 1144.89,446.75 1144.52,446.74 1144.22,446.84" stroke="#000" stroke-width="1.3" fill="#fff" stroke-linejoin="round"/>
<ellipse cx="0" cy="0" rx="5.3" ry="2.01" transform="translate(1111.28 471.82) rotate(60.19)" stroke="#000" stroke-width="1.3" fill="none"/>
<polygon points="1090.94,476.55 1090.67,476.8 1090.48,477.16 1090.37,477.64 1090.35,478.21 1090.42,478.88 1090.57,479.62 1090.81,480.41 1091.12,481.23 1091.5,482.07 1091.95,482.89 1092.44,483.69 1092.96,484.45 1093.51,485.13 1094.08,485.74 1094.63,486.24 1095.17,486.64 1095.68,486.91 1096.15,487.06 1096.56,487.08 1096.91,486.97 1114.26,477.02 1114.53,476.78 1114.73,476.42 1114.83,475.94 1114.85,475.36 1114.79,474.7 1114.63,473.96 1114.39,473.17 1114.08,472.35 1113.7,471.51 1113.26,470.68 1112.76,469.88 1112.24,469.13 1111.69,468.44 1111.12,467.84 1110.57,467.34 1110.03,466.94 1109.52,466.67 1109.05,466.52 1108.64,466.5 1108.29,466.61" stroke="#000" stroke-width="1.3" fill="#000" stroke-linejoin="round"/>
<polyline points="1098.64,485.97 1098.87,485.78 1099.05,485.5 1099.17,485.14 1099.23,484.71 1099.23,484.21 1099.17,483.65 1099.04,483.04 1098.86,482.39 1098.63,481.71 1098.34,481.02 1098.01,480.32 1097.64,479.63 1097.23,478.96 1096.8,478.32 1096.35,477.73 1095.88,477.18 1095.41,476.7 1094.95,476.28 1094.5,475.95 1094.07,475.69 1093.66,475.52 1093.29,475.44 1092.96,475.46 1092.68,475.56" stroke="#fff" stroke-width="0.4" fill="none" stroke-linejoin="round"/>
<polyline points="1100.38,484.98 1100.61,484.79 1100.79,484.51 1100.91,484.15 1100.97,483.71 1100.96,483.21 1100.9,482.65 1100.78,482.04 1100.6,481.39 1100.36,480.72 1100.08,480.02 1099.75,479.33 1099.37,478.64 1098.97,477.97 1098.53,477.33 1098.08,476.73 1097.62,476.19 1097.15,475.7 1096.68,475.29 1096.23,474.95 1095.8,474.7 1095.4,474.53 1095.03,474.45 1094.7,474.46 1094.41,474.57" stroke="#fff" stroke-width="0.4" fill="none" stroke-linejoin="round"/>
<polyline points="1102.11,483.98 1102.34,483.79 1102.52,483.51 1102.64,483.15 1102.7,482.72 1102.7,482.22 1102.64,481.66 1102.51,481.05 1102.33,480.4 1102.1,479.72 1101.81,479.03 1101.48,478.33 1101.11,477.64 1100.7,476.97 1100.27,476.34 1099.82,475.74 1099.35,475.19 1098.88,474.71 1098.42,474.29 1097.97,473.96 1097.54,473.7 1097.13,473.53 1096.76,473.46 1096.43,473.47 1096.15,473.57" stroke="#fff" stroke-width="0.4" fill="none" stroke-linejoin="round"/>
<polyline points="1103.85,482.99 1104.08,482.8 1104.26,482.52 1104.38,482.16 1104.44,481.73 1104.44,481.22 1104.37,480.66 1104.25,480.05 1104.07,479.4 1103.83,478.73 1103.55,478.04 1103.22,477.34 1102.84,476.65 1102.44,475.98 1102,475.34 1101.55,474.74 1101.09,474.2 1100.62,473.71 1100.16,473.3 1099.7,472.96 1099.27,472.71 1098.87,472.54 1098.5,472.46 1098.17,472.47 1097.88,472.58" stroke="#fff" stroke-width="0.4" fill="none" stroke-linejoin="round"/>
<polyline points="1105.58,482 1105.82,481.8 1105.99,481.52 1106.11,481.17 1106.17,480.73 1106.17,480.23 1106.11,479.67 1105.99,479.06 1105.81,478.41 1105.57,477.73 1105.28,477.04 1104.95,476.35 1104.58,475.66 1104.17,474.99 1103.74,474.35 1103.29,473.75 1102.82,473.2 1102.35,472.72 1101.89,472.31 1101.44,471.97 1101.01,471.71 1100.6,471.55 1100.23,471.47 1099.9,471.48 1099.62,471.58" stroke="#fff" stroke-width="0.4" fill="none" stroke-linejoin="round"/>
<polyline points="1107.32,481 1107.55,480.81 1107.73,480.53 1107.85,480.17 1107.91,479.74 1107.91,479.24 1107.84,478.67 1107.72,478.07 1107.54,477.42 1107.31,476.74 1107.02,476.05 1106.69,475.35 1106.31,474.66 1105.91,473.99 1105.47,473.35 1105.02,472.76 1104.56,472.21 1104.09,471.73 1103.63,471.31 1103.17,470.97 1102.74,470.72 1102.34,470.55 1101.97,470.47 1101.64,470.49 1101.35,470.59" stroke="#fff" stroke-width="0.4" fill="none" stroke-linejoin="round"/>
<polyline points="1109.05,480.01 1109.29,479.81 1109.46,479.54 1109.58,479.18 1109.64,478.74 1109.64,478.24 1109.58,477.68 1109.46,477.07 1109.28,476.42 1109.04,475.75 1108.75,475.05 1108.42,474.36 1108.05,473.67 1107.64,473 1107.21,472.36 1106.76,471.76 1106.29,471.22 1105.83,470.73 1105.36,470.32 1104.91,469.98 1104.48,469.73 1104.07,469.56 1103.7,469.48 1103.37,469.49 1103.09,469.59" stroke="#fff" stroke-width="0.4" fill="none" stroke-linejoin="round"/>
<polyline points="1110.79,479.01 1111.02,478.82 1111.2,478.54 1111.32,478.18 1111.38,477.75 1111.38,477.25 1111.31,476.69 1111.19,476.08 1111.01,475.43 1110.78,474.75 1110.49,474.06 1110.16,473.36 1109.79,472.67 1109.38,472 1108.95,471.36 1108.49,470.77 1108.03,470.22 1107.56,469.74 1107.1,469.32 1106.64,468.99 1106.21,468.73 1105.81,468.56 1105.44,468.48 1105.11,468.5 1104.82,468.6" stroke="#fff" stroke-width="0.4" fill="none" stroke-linejoin="round"/>
<polyline points="1112.52,478.02 1112.76,477.83 1112.94,477.55 1113.05,477.19 1113.11,476.75 1113.11,476.25 1113.05,475.69 1112.93,475.08 1112.75,474.43 1112.51,473.76 1112.22,473.07 1111.89,472.37 1111.52,471.68 1111.11,471.01 1110.68,470.37 1110.23,469.77 1109.76,469.23 1109.3,468.74 1108.83,468.33 1108.38,467.99 1107.95,467.74 1107.54,467.57 1107.17,467.49 1106.84,467.5 1106.56,467.61" stroke="#fff" stroke-width="0.4" fill="none" stroke-linejoin="round"/>
<polygon points="1081.77,484.69 1081.61,484.83 1081.5,485.04 1081.44,485.32 1081.43,485.66 1081.46,486.05 1081.55,486.47 1081.69,486.94 1081.88,487.42 1082.1,487.9 1082.36,488.39 1082.64,488.85 1082.95,489.29 1083.27,489.69 1083.6,490.05 1083.93,490.34 1084.24,490.57 1084.54,490.73 1084.81,490.82 1085.05,490.83 1085.25,490.76 1096.53,484.3 1096.69,484.16 1096.8,483.95 1096.87,483.67 1096.88,483.33 1096.84,482.94 1096.75,482.51 1096.61,482.05 1096.43,481.57 1096.2,481.09 1095.95,480.6 1095.66,480.13 1095.35,479.7 1095.03,479.3 1094.7,478.94 1094.38,478.65 1094.06,478.42 1093.76,478.26 1093.49,478.17 1093.25,478.16 1093.05,478.23" stroke="#000" stroke-width="1.3" fill="#fff" stroke-linejoin="round"/>
<ellipse cx="0" cy="0" rx="3.5" ry="1.33" transform="translate(1083.51 487.73) rotate(60.19)" stroke="#000" stroke-width="1.3" fill="none"/>
<polygon points="1068.95,488.46 1068.65,488.73 1068.44,489.13 1068.32,489.65 1068.3,490.29 1068.37,491.02 1068.54,491.83 1068.8,492.7 1069.15,493.6 1069.57,494.52 1070.05,495.43 1070.59,496.31 1071.18,497.14 1071.78,497.9 1072.4,498.56 1073.01,499.12 1073.61,499.55 1074.17,499.86 1074.68,500.02 1075.13,500.04 1075.51,499.91 1086.79,493.45 1087.09,493.19 1087.3,492.79 1087.42,492.26 1087.44,491.63 1087.37,490.89 1087.2,490.08 1086.94,489.21 1086.59,488.31 1086.17,487.39 1085.69,486.48 1085.15,485.6 1084.57,484.77 1083.96,484.01 1083.34,483.35 1082.73,482.79 1082.14,482.36 1081.58,482.06 1081.06,481.89 1080.61,481.87 1080.23,482" stroke="#000" stroke-width="1.3" fill="#fff" stroke-linejoin="round"/>
<ellipse cx="0" cy="0" rx="6.6" ry="2.51" transform="translate(1072.23 494.19) rotate(60.19)" stroke="#000" stroke-width="1.3" fill="none"/>
<ellipse cx="0" cy="0" rx="6" ry="2.28" transform="translate(1073.53 493.44) rotate(60.19)" stroke="#000" stroke-width="0.8" fill="none"/>
<polygon points="1065.71,492.85 1065.51,493.03 1065.36,493.3 1065.29,493.65 1065.27,494.07 1065.32,494.56 1065.43,495.1 1065.61,495.68 1065.84,496.28 1066.12,496.9 1066.44,497.5 1066.8,498.09 1067.19,498.64 1067.59,499.15 1068,499.59 1068.41,499.96 1068.81,500.25 1069.18,500.45 1069.52,500.56 1069.83,500.57 1070.08,500.49 1074.42,498.01 1074.62,497.83 1074.76,497.56 1074.84,497.21 1074.85,496.79 1074.8,496.3 1074.69,495.76 1074.52,495.18 1074.29,494.58 1074.01,493.96 1073.68,493.36 1073.32,492.77 1072.93,492.22 1072.53,491.71 1072.12,491.27 1071.71,490.9 1071.31,490.61 1070.94,490.41 1070.6,490.3 1070.3,490.29 1070.04,490.37" stroke="#000" stroke-width="1.3" fill="#fff" stroke-linejoin="round"/>
<ellipse cx="0" cy="0" rx="4.4" ry="1.67" transform="translate(1067.89 496.67) rotate(60.19)" stroke="#000" stroke-width="1.3" fill="none"/>
<polygon points="1060.78,491.3 1060.41,491.63 1060.14,492.12 1060,492.78 1059.97,493.57 1060.06,494.48 1060.27,495.48 1060.6,496.56 1061.02,497.69 1061.55,498.83 1062.15,499.96 1062.82,501.06 1063.54,502.08 1064.3,503.02 1065.06,503.85 1065.83,504.54 1066.56,505.08 1067.26,505.46 1067.9,505.66 1068.46,505.68 1068.93,505.53 1072.4,503.54 1072.78,503.21 1073.04,502.71 1073.19,502.06 1073.21,501.27 1073.12,500.36 1072.91,499.35 1072.59,498.27 1072.16,497.15 1071.63,496.01 1071.03,494.88 1070.36,493.78 1069.64,492.75 1068.88,491.81 1068.12,490.99 1067.36,490.3 1066.62,489.76 1065.92,489.38 1065.29,489.18 1064.72,489.15 1064.25,489.31" stroke="#000" stroke-width="1.3" fill="#fff" stroke-linejoin="round"/>
<ellipse cx="0" cy="0" rx="8.2" ry="3.12" transform="translate(1064.86 498.41) rotate(60.19)" stroke="#000" stroke-width="1.3" fill="none"/>
<ellipse cx="0" cy="0" rx="8" ry="3.04" transform="translate(1066.16 497.67) rotate(60.19)" stroke="#000" stroke-width="0.8" fill="none"/>
<ellipse cx="0" cy="0" rx="5.6" ry="2.13" transform="translate(1064.86 498.41) rotate(60.19)" stroke="#000" stroke-width="0.8" fill="none"/>
<polygon points="1044.71,506.5 1044.57,506.62 1044.48,506.8 1044.42,507.04 1044.41,507.33 1044.45,507.66 1044.52,508.03 1044.64,508.42 1044.8,508.83 1044.99,509.25 1045.21,509.67 1045.46,510.07 1045.72,510.44 1046,510.79 1046.28,511.09 1046.56,511.34 1046.83,511.54 1047.08,511.68 1047.31,511.75 1047.52,511.76 1047.69,511.7 1066.35,501.02 1066.48,500.89 1066.58,500.71 1066.63,500.47 1066.64,500.19 1066.61,499.85 1066.53,499.48 1066.41,499.09 1066.26,498.68 1066.07,498.26 1065.84,497.85 1065.6,497.45 1065.34,497.07 1065.06,496.73 1064.78,496.42 1064.5,496.17 1064.23,495.97 1063.98,495.84 1063.74,495.76 1063.54,495.75 1063.36,495.81" stroke="#000" stroke-width="1.3" fill="#fff" stroke-linejoin="round"/>
<ellipse cx="0" cy="0" rx="3" ry="1.14" transform="translate(1046.2 509.1) rotate(60.19)" stroke="#000" stroke-width="1.3" fill="none"/>
<ellipse cx="0" cy="0" rx="1.6" ry="0.61" transform="translate(1046.2 509.1) rotate(60.19)" stroke="#000" stroke-width="0.8" fill="none"/>
<polyline points="961,467.8 982.4,455 1028,519.7 1041.9,512.4" stroke="#000" stroke-width="1" fill="none" stroke-linejoin="round" stroke-dasharray="14 4 2 4"/>
<polygon points="1215.79,395.57 1215.16,396.13 1214.71,396.97 1214.45,398.07 1214.4,399.41 1214.54,400.96 1214.89,402.66 1215.43,404.5 1216.15,406.41 1217.02,408.35 1218.03,410.27 1219.16,412.13 1220.37,413.89 1221.64,415.48 1222.93,416.89 1224.22,418.07 1225.46,418.99 1226.64,419.64 1227.72,419.99 1228.67,420.03 1229.47,419.77 1253.85,406 1254.48,405.44 1254.93,404.6 1255.19,403.5 1255.24,402.16 1255.1,400.61 1254.75,398.91 1254.21,397.07 1253.49,395.16 1252.62,393.22 1251.61,391.3 1250.48,389.44 1249.27,387.68 1248,386.09 1246.71,384.68 1245.42,383.5 1244.18,382.58 1243,381.93 1241.92,381.58 1240.97,381.54 1240.17,381.8" stroke="#000" stroke-width="1.3" fill="#000" stroke-linejoin="round"/>
<polyline points="1230.34,419.28 1230.88,418.84 1231.3,418.2 1231.58,417.37 1231.73,416.36 1231.73,415.2 1231.59,413.9 1231.32,412.49 1230.91,410.98 1230.37,409.41 1229.71,407.8 1228.95,406.18 1228.1,404.58 1227.17,403.03 1226.17,401.54 1225.13,400.15 1224.07,398.88 1222.99,397.75 1221.92,396.79 1220.88,396 1219.88,395.4 1218.94,395.01 1218.09,394.82 1217.32,394.85 1216.66,395.08" stroke="#fff" stroke-width="0.45" fill="none" stroke-linejoin="round"/>
<polyline points="1232.26,418.2 1232.8,417.76 1233.22,417.12 1233.5,416.28 1233.64,415.28 1233.64,414.12 1233.51,412.82 1233.23,411.4 1232.82,409.9 1232.28,408.33 1231.63,406.72 1230.87,405.1 1230.02,403.5 1229.08,401.94 1228.09,400.46 1227.05,399.07 1225.98,397.8 1224.9,396.67 1223.83,395.71 1222.79,394.92 1221.79,394.32 1220.86,393.93 1220,393.74 1219.24,393.76 1218.58,394" stroke="#fff" stroke-width="0.45" fill="none" stroke-linejoin="round"/>
<polyline points="1234.17,417.12 1234.72,416.67 1235.13,416.03 1235.41,415.2 1235.56,414.2 1235.56,413.03 1235.42,411.74 1235.15,410.32 1234.74,408.82 1234.2,407.25 1233.55,405.64 1232.79,404.02 1231.93,402.42 1231,400.86 1230,399.37 1228.96,397.98 1227.9,396.72 1226.82,395.59 1225.75,394.62 1224.71,393.83 1223.71,393.24 1222.77,392.84 1221.92,392.66 1221.15,392.68 1220.49,392.92" stroke="#fff" stroke-width="0.45" fill="none" stroke-linejoin="round"/>
<polyline points="1236.09,416.03 1236.63,415.59 1237.05,414.95 1237.33,414.12 1237.47,413.11 1237.47,411.95 1237.34,410.65 1237.06,409.24 1236.65,407.73 1236.11,406.16 1235.46,404.56 1234.7,402.94 1233.85,401.34 1232.91,399.78 1231.92,398.29 1230.88,396.9 1229.81,395.63 1228.73,394.51 1227.66,393.54 1226.62,392.75 1225.62,392.16 1224.69,391.76 1223.83,391.57 1223.07,391.6 1222.41,391.83" stroke="#fff" stroke-width="0.45" fill="none" stroke-linejoin="round"/>
<polyline points="1238,414.95 1238.55,414.51 1238.96,413.87 1239.24,413.04 1239.39,412.03 1239.39,410.87 1239.25,409.57 1238.98,408.16 1238.57,406.65 1238.03,405.08 1237.38,403.47 1236.62,401.85 1235.76,400.25 1234.83,398.7 1233.83,397.21 1232.79,395.82 1231.73,394.55 1230.65,393.42 1229.58,392.46 1228.54,391.67 1227.54,391.07 1226.6,390.68 1225.75,390.49 1224.98,390.52 1224.32,390.75" stroke="#fff" stroke-width="0.45" fill="none" stroke-linejoin="round"/>
<polyline points="1239.92,413.87 1240.46,413.43 1240.88,412.78 1241.16,411.95 1241.3,410.95 1241.3,409.79 1241.17,408.49 1240.89,407.07 1240.48,405.57 1239.94,404 1239.29,402.39 1238.53,400.77 1237.68,399.17 1236.75,397.61 1235.75,396.13 1234.71,394.74 1233.64,393.47 1232.56,392.34 1231.49,391.37 1230.45,390.59 1229.45,389.99 1228.52,389.6 1227.66,389.41 1226.9,389.43 1226.24,389.67" stroke="#fff" stroke-width="0.45" fill="none" stroke-linejoin="round"/>
<polyline points="1241.83,412.79 1242.38,412.34 1242.79,411.7 1243.07,410.87 1243.22,409.87 1243.22,408.7 1243.08,407.4 1242.81,405.99 1242.4,404.49 1241.86,402.92 1241.21,401.31 1240.45,399.69 1239.59,398.09 1238.66,396.53 1237.67,395.04 1236.62,393.65 1235.56,392.39 1234.48,391.26 1233.41,390.29 1232.37,389.5 1231.37,388.91 1230.43,388.51 1229.58,388.33 1228.81,388.35 1228.15,388.59" stroke="#fff" stroke-width="0.45" fill="none" stroke-linejoin="round"/>
<polyline points="1243.75,411.7 1244.29,411.26 1244.71,410.62 1244.99,409.79 1245.13,408.78 1245.14,407.62 1245,406.32 1244.72,404.91 1244.31,403.4 1243.78,401.83 1243.12,400.23 1242.36,398.61 1241.51,397 1240.58,395.45 1239.58,393.96 1238.54,392.57 1237.47,391.3 1236.39,390.18 1235.32,389.21 1234.28,388.42 1233.28,387.82 1232.35,387.43 1231.49,387.24 1230.73,387.27 1230.07,387.5" stroke="#fff" stroke-width="0.45" fill="none" stroke-linejoin="round"/>
<polyline points="1245.66,410.62 1246.21,410.18 1246.62,409.54 1246.9,408.71 1247.05,407.7 1247.05,406.54 1246.91,405.24 1246.64,403.83 1246.23,402.32 1245.69,400.75 1245.04,399.14 1244.28,397.52 1243.42,395.92 1242.49,394.36 1241.5,392.88 1240.46,391.49 1239.39,390.22 1238.31,389.09 1237.24,388.13 1236.2,387.34 1235.2,386.74 1234.26,386.35 1233.41,386.16 1232.64,386.19 1231.98,386.42" stroke="#fff" stroke-width="0.45" fill="none" stroke-linejoin="round"/>
<polyline points="1247.58,409.54 1248.12,409.1 1248.54,408.45 1248.82,407.62 1248.96,406.62 1248.97,405.46 1248.83,404.16 1248.55,402.74 1248.14,401.24 1247.61,399.67 1246.95,398.06 1246.19,396.44 1245.34,394.84 1244.41,393.28 1243.41,391.8 1242.37,390.41 1241.3,389.14 1240.22,388.01 1239.15,387.04 1238.11,386.26 1237.12,385.66 1236.18,385.26 1235.32,385.08 1234.56,385.1 1233.9,385.34" stroke="#fff" stroke-width="0.45" fill="none" stroke-linejoin="round"/>
<polyline points="1249.5,408.46 1250.04,408.01 1250.45,407.37 1250.73,406.54 1250.88,405.54 1250.88,404.37 1250.74,403.07 1250.47,401.66 1250.06,400.16 1249.52,398.59 1248.87,396.98 1248.11,395.36 1247.25,393.76 1246.32,392.2 1245.33,390.71 1244.29,389.32 1243.22,388.05 1242.14,386.93 1241.07,385.96 1240.03,385.17 1239.03,384.58 1238.1,384.18 1237.24,384 1236.47,384.02 1235.81,384.26" stroke="#fff" stroke-width="0.45" fill="none" stroke-linejoin="round"/>
<polyline points="1251.41,407.37 1251.95,406.93 1252.37,406.29 1252.65,405.46 1252.79,404.45 1252.8,403.29 1252.66,401.99 1252.38,400.58 1251.97,399.07 1251.44,397.5 1250.78,395.89 1250.02,394.28 1249.17,392.67 1248.24,391.12 1247.24,389.63 1246.2,388.24 1245.13,386.97 1244.05,385.85 1242.98,384.88 1241.94,384.09 1240.95,383.49 1240.01,383.1 1239.15,382.91 1238.39,382.94 1237.73,383.17" stroke="#fff" stroke-width="0.45" fill="none" stroke-linejoin="round"/>
<polyline points="1253.85,406 1254.39,405.55 1254.8,404.91 1255.09,404.08 1255.23,403.08 1255.23,401.91 1255.1,400.61 1254.82,399.2 1254.41,397.69 1253.87,396.12 1253.22,394.52 1252.46,392.9 1251.61,391.3 1250.67,389.74 1249.68,388.25 1248.64,386.86 1247.57,385.59 1246.49,384.47 1245.42,383.5 1244.38,382.71 1243.38,382.12 1242.45,381.72 1241.59,381.53 1240.83,381.56 1240.17,381.8" stroke="#000" stroke-width="1.3" fill="none" stroke-linejoin="round"/>
<polygon points="1206.53,403.57 1206,404.03 1205.63,404.72 1205.42,405.64 1205.37,406.74 1205.49,408.02 1205.78,409.43 1206.23,410.95 1206.82,412.53 1207.54,414.14 1208.38,415.73 1209.31,417.27 1210.32,418.72 1211.37,420.04 1212.43,421.2 1213.5,422.18 1214.53,422.94 1215.5,423.48 1216.39,423.77 1217.18,423.8 1217.85,423.59 1228.29,417.69 1228.82,417.23 1229.19,416.53 1229.4,415.62 1229.45,414.51 1229.32,413.23 1229.04,411.82 1228.59,410.3 1228,408.72 1227.28,407.12 1226.44,405.52 1225.5,403.98 1224.5,402.54 1223.45,401.21 1222.38,400.05 1221.32,399.07 1220.29,398.31 1219.32,397.78 1218.43,397.49 1217.64,397.45 1216.97,397.66" stroke="#000" stroke-width="1.3" fill="#fff" stroke-linejoin="round"/>
<ellipse cx="0" cy="0" rx="11.5" ry="4.37" transform="translate(1212.19 413.58) rotate(60.52)" stroke="#000" stroke-width="1.3" fill="none"/>
<polyline points="1221.33,421.62 1221.78,421.26 1222.12,420.72 1222.35,420.04 1222.47,419.21 1222.47,418.24 1222.36,417.17 1222.13,416 1221.79,414.75 1221.35,413.46 1220.81,412.12 1220.18,410.79 1219.47,409.46 1218.7,408.17 1217.88,406.94 1217.02,405.79 1216.13,404.74 1215.24,403.81 1214.36,403.01 1213.49,402.36 1212.67,401.87 1211.9,401.54 1211.19,401.38 1210.55,401.4 1210.01,401.6" stroke="#000" stroke-width="0.8" fill="none" stroke-linejoin="round"/>
<polygon points="1191.5,401.38 1190.55,402.21 1189.88,403.47 1189.5,405.12 1189.41,407.12 1189.64,409.43 1190.16,411.99 1190.96,414.73 1192.03,417.59 1193.34,420.49 1194.86,423.37 1196.54,426.16 1198.36,428.78 1200.26,431.17 1202.19,433.27 1204.11,435.04 1205.98,436.42 1207.74,437.38 1209.35,437.91 1210.77,437.98 1211.98,437.59 1222.42,431.69 1223.37,430.86 1224.05,429.6 1224.43,427.95 1224.51,425.94 1224.29,423.63 1223.77,421.08 1222.96,418.33 1221.89,415.48 1220.58,412.57 1219.07,409.69 1217.38,406.91 1215.57,404.28 1213.67,401.89 1211.74,399.79 1209.81,398.03 1207.95,396.64 1206.19,395.68 1204.58,395.16 1203.15,395.09 1201.95,395.47" stroke="#000" stroke-width="1.3" fill="#fff" stroke-linejoin="round"/>
<ellipse cx="0" cy="0" rx="20.8" ry="7.9" transform="translate(1201.74 419.48) rotate(60.52)" stroke="#000" stroke-width="1.3" fill="none"/>
<polyline points="1214.15,436.36 1214.96,435.7 1215.58,434.74 1216.01,433.49 1216.22,431.99 1216.23,430.25 1216.02,428.31 1215.61,426.19 1214.99,423.94 1214.19,421.59 1213.21,419.18 1212.07,416.76 1210.8,414.36 1209.4,412.03 1207.91,409.81 1206.36,407.73 1204.76,405.83 1203.14,404.15 1201.54,402.7 1199.98,401.52 1198.49,400.63 1197.09,400.04 1195.81,399.76 1194.67,399.79 1193.68,400.15" stroke="#000" stroke-width="0.9" fill="none" stroke-linejoin="round"/>
<polyline points="1217.2,434.64 1218.01,433.98 1218.63,433.02 1219.05,431.77 1219.27,430.27 1219.27,428.53 1219.07,426.59 1218.65,424.47 1218.04,422.22 1217.24,419.87 1216.26,417.46 1215.12,415.04 1213.84,412.64 1212.45,410.31 1210.96,408.09 1209.4,406.01 1207.8,404.11 1206.19,402.42 1204.59,400.98 1203.03,399.8 1201.54,398.91 1200.14,398.31 1198.86,398.04 1197.71,398.07 1196.73,398.42" stroke="#000" stroke-width="1.6" fill="none" stroke-linejoin="round"/>
<polyline points="1219.37,433.41 1220.19,432.75 1220.81,431.79 1221.23,430.54 1221.44,429.04 1221.45,427.3 1221.24,425.36 1220.83,423.24 1220.22,420.99 1219.41,418.64 1218.43,416.23 1217.3,413.81 1216.02,411.41 1214.62,409.08 1213.14,406.86 1211.58,404.78 1209.98,402.88 1208.37,401.19 1206.77,399.75 1205.21,398.57 1203.72,397.68 1202.32,397.08 1201.03,396.8 1199.89,396.84 1198.9,397.19" stroke="#000" stroke-width="0.9" fill="none" stroke-linejoin="round"/>
<polygon points="1179.37,421.56 1178.95,421.93 1178.65,422.49 1178.48,423.22 1178.44,424.1 1178.54,425.13 1178.77,426.26 1179.13,427.47 1179.6,428.73 1180.18,430.02 1180.85,431.29 1181.6,432.52 1182.4,433.68 1183.24,434.74 1184.09,435.67 1184.94,436.45 1185.77,437.06 1186.55,437.49 1187.26,437.72 1187.89,437.75 1188.42,437.58 1206.27,427.49 1206.69,427.13 1206.99,426.57 1207.16,425.84 1207.19,424.95 1207.09,423.93 1206.86,422.8 1206.51,421.59 1206.03,420.32 1205.45,419.04 1204.78,417.76 1204.04,416.53 1203.23,415.37 1202.4,414.32 1201.54,413.39 1200.69,412.6 1199.87,411.99 1199.09,411.57 1198.37,411.34 1197.74,411.31 1197.21,411.48" stroke="#000" stroke-width="1.3" fill="#000" stroke-linejoin="round"/>
<polygon points="1166.17,429.71 1165.78,430.06 1165.5,430.58 1165.34,431.26 1165.3,432.09 1165.4,433.04 1165.61,434.1 1165.94,435.23 1166.39,436.42 1166.93,437.62 1167.56,438.81 1168.25,439.96 1169,441.04 1169.79,442.03 1170.59,442.9 1171.38,443.63 1172.15,444.2 1172.88,444.6 1173.55,444.82 1174.13,444.85 1174.63,444.69 1188.13,437.06 1188.52,436.72 1188.8,436.2 1188.96,435.51 1188.99,434.68 1188.9,433.73 1188.68,432.67 1188.35,431.54 1187.91,430.36 1187.37,429.16 1186.74,427.96 1186.04,426.81 1185.29,425.73 1184.51,424.74 1183.71,423.87 1182.91,423.14 1182.14,422.57 1181.41,422.17 1180.75,421.96 1180.16,421.93 1179.66,422.09" stroke="#000" stroke-width="1.3" fill="#fff" stroke-linejoin="round"/>
<ellipse cx="0" cy="0" rx="8.6" ry="3.27" transform="translate(1170.4 437.2) rotate(60.52)" stroke="#000" stroke-width="1.3" fill="none"/>
<ellipse cx="0" cy="0" rx="6.2" ry="2.36" transform="translate(1170.4 437.2) rotate(60.52)" stroke="#000" stroke-width="1" fill="none"/>
<ellipse cx="0" cy="0" rx="1" ry="1" transform="translate(1168.75 434.28) rotate(0)" stroke="#000" stroke-width="0.8" fill="none"/>
<ellipse cx="0" cy="0" rx="1" ry="1" transform="translate(1167.52 432.11) rotate(0)" stroke="#000" stroke-width="0.8" fill="none"/>
<ellipse cx="0" cy="0" rx="1" ry="1" transform="translate(1166.85 430.91) rotate(0)" stroke="#000" stroke-width="0.8" fill="none"/>
<ellipse cx="0" cy="0" rx="1" ry="1" transform="translate(1166.85 430.91) rotate(0)" stroke="#000" stroke-width="0.8" fill="none"/>
<ellipse cx="0" cy="0" rx="1" ry="1" transform="translate(1167.52 432.11) rotate(0)" stroke="#000" stroke-width="0.8" fill="none"/>
<ellipse cx="0" cy="0" rx="1" ry="1" transform="translate(1168.75 434.28) rotate(0)" stroke="#000" stroke-width="0.8" fill="none"/>
<ellipse cx="0" cy="0" rx="22.3" ry="6.6" transform="translate(1275 377.4) rotate(57)" stroke="#000" stroke-width="1.3" fill="none"/>
<ellipse cx="0" cy="0" rx="19.6" ry="3.9" transform="translate(1275.6 377.8) rotate(57)" stroke="#000" stroke-width="1.1" fill="none"/>
<ellipse cx="0" cy="0" rx="8.3" ry="3.7" transform="translate(1257.4 387.4) rotate(57)" stroke="#000" stroke-width="1.2" fill="none"/>
<ellipse cx="0" cy="0" rx="5.8" ry="1.3" transform="translate(1257.6 387.6) rotate(57)" stroke="#000" stroke-width="1" fill="none"/>
<polygon points="1090.39,514.44 1090.23,514.26 1090.01,514.13 1089.72,514.06 1089.39,514.04 1089.01,514.07 1088.6,514.15 1088.16,514.28 1087.71,514.46 1087.25,514.68 1086.81,514.95 1086.38,515.24 1085.98,515.55 1085.63,515.88 1085.32,516.22 1085.07,516.56 1084.88,516.89 1084.75,517.2 1084.7,517.49 1084.72,517.75 1084.81,517.96 1090.69,527.26 1090.85,527.43 1091.07,527.56 1091.36,527.64 1091.69,527.66 1092.07,527.63 1092.48,527.55 1092.92,527.42 1093.37,527.23 1093.83,527.01 1094.28,526.75 1094.7,526.46 1095.1,526.14 1095.45,525.81 1095.76,525.47 1096.01,525.14 1096.2,524.81 1096.33,524.49 1096.38,524.21 1096.36,523.95 1096.27,523.73" stroke="#000" stroke-width="1" fill="#000" stroke-linejoin="round"/>
<circle cx="1095.7" cy="535.5" r="3.1" stroke="#000" stroke-width="1.1" fill="#fff"/>
<polygon points="301.77,335.35 300.87,336.12 300.23,337.27 299.84,338.76 299.72,340.57 299.88,342.64 300.31,344.94 301.01,347.39 301.94,349.94 303.09,352.53 304.44,355.1 305.94,357.57 307.57,359.89 309.28,362.01 311.02,363.87 312.77,365.42 314.46,366.62 316.07,367.45 317.55,367.89 318.87,367.93 319.99,367.55 332.17,360.66 333.07,359.89 333.72,358.75 334.11,357.25 334.22,355.44 334.06,353.37 333.63,351.08 332.94,348.62 332,346.07 330.85,343.48 329.51,340.92 328,338.44 326.37,336.12 324.67,334 322.92,332.15 321.18,330.6 319.48,329.39 317.87,328.56 316.39,328.12 315.07,328.09 313.95,328.46" stroke="#000" stroke-width="1.2" fill="#fff" stroke-linejoin="round"/>
<polyline points="320.42,367.31 321.19,366.7 321.78,365.82 322.2,364.69 322.42,363.33 322.46,361.76 322.31,360.02 321.97,358.12 321.45,356.1 320.75,354 319.89,351.85 318.89,349.7 317.76,347.56 316.51,345.49 315.18,343.52 313.78,341.68 312.34,340 310.88,338.51 309.43,337.24 308.01,336.21 306.65,335.44 305.36,334.94 304.18,334.71 303.12,334.77 302.2,335.11" stroke="#000" stroke-width="1.1" fill="none" stroke-linejoin="round"/>
<polyline points="321.82,366.52 322.58,365.91 323.17,365.03 323.59,363.9 323.82,362.54 323.86,360.97 323.7,359.23 323.36,357.33 322.84,355.31 322.14,353.21 321.29,351.07 320.28,348.91 319.15,346.78 317.9,344.7 316.57,342.73 315.17,340.89 313.73,339.21 312.27,337.73 310.82,336.46 309.4,335.43 308.04,334.65 306.76,334.15 305.57,333.92 304.52,333.98 303.6,334.32" stroke="#000" stroke-width="0.6" fill="none" stroke-linejoin="round"/>
<polyline points="323.21,365.73 323.97,365.12 324.57,364.24 324.98,363.11 325.21,361.75 325.25,360.19 325.1,358.44 324.76,356.54 324.23,354.53 323.54,352.43 322.68,350.28 321.67,348.12 320.54,345.99 319.3,343.92 317.96,341.94 316.56,340.1 315.12,338.42 313.66,336.94 312.21,335.67 310.79,334.64 309.43,333.86 308.15,333.36 306.97,333.14 305.91,333.19 304.99,333.53" stroke="#000" stroke-width="1.1" fill="none" stroke-linejoin="round"/>
<polyline points="324.6,364.94 325.36,364.33 325.96,363.45 326.37,362.32 326.6,360.97 326.64,359.4 326.49,357.65 326.15,355.75 325.62,353.74 324.93,351.64 324.07,349.49 323.07,347.33 321.93,345.2 320.69,343.13 319.36,341.16 317.96,339.31 316.52,337.64 315.06,336.15 313.6,334.88 312.19,333.85 310.82,333.08 309.54,332.57 308.36,332.35 307.3,332.4 306.38,332.74" stroke="#000" stroke-width="0.6" fill="none" stroke-linejoin="round"/>
<polyline points="325.99,364.16 326.76,363.54 327.35,362.67 327.77,361.54 327.99,360.18 328.03,358.61 327.88,356.86 327.54,354.97 327.02,352.95 326.32,350.85 325.46,348.7 324.46,346.54 323.33,344.41 322.08,342.34 320.75,340.37 319.35,338.53 317.91,336.85 316.45,335.36 315,334.09 313.58,333.06 312.22,332.29 310.93,331.79 309.75,331.56 308.69,331.62 307.78,331.95" stroke="#000" stroke-width="1.1" fill="none" stroke-linejoin="round"/>
<polyline points="327.39,363.37 328.15,362.76 328.74,361.88 329.16,360.75 329.39,359.39 329.43,357.82 329.27,356.08 328.93,354.18 328.41,352.16 327.71,350.06 326.86,347.92 325.85,345.76 324.72,343.62 323.47,341.55 322.14,339.58 320.74,337.74 319.3,336.06 317.84,334.57 316.39,333.31 314.97,332.27 313.61,331.5 312.33,331 311.14,330.77 310.09,330.83 309.17,331.17" stroke="#000" stroke-width="0.6" fill="none" stroke-linejoin="round"/>
<polyline points="328.78,362.58 329.54,361.97 330.14,361.09 330.55,359.96 330.78,358.6 330.82,357.04 330.67,355.29 330.33,353.39 329.8,351.37 329.11,349.27 328.25,347.13 327.24,344.97 326.11,342.84 324.87,340.77 323.53,338.79 322.13,336.95 320.69,335.27 319.23,333.79 317.78,332.52 316.36,331.49 315,330.71 313.72,330.21 312.54,329.98 311.48,330.04 310.56,330.38" stroke="#000" stroke-width="1.1" fill="none" stroke-linejoin="round"/>
<polyline points="330.17,361.79 330.94,361.18 331.53,360.3 331.94,359.17 332.17,357.81 332.21,356.25 332.06,354.5 331.72,352.6 331.2,350.59 330.5,348.49 329.64,346.34 328.64,344.18 327.5,342.05 326.26,339.98 324.93,338 323.53,336.16 322.09,334.49 320.63,333 319.18,331.73 317.76,330.7 316.39,329.93 315.11,329.42 313.93,329.2 312.87,329.25 311.95,329.59" stroke="#000" stroke-width="0.6" fill="none" stroke-linejoin="round"/>
<polyline points="331.57,361.01 332.33,360.39 332.92,359.51 333.34,358.39 333.56,357.03 333.6,355.46 333.45,353.71 333.11,351.81 332.59,349.8 331.89,347.7 331.03,345.55 330.03,343.39 328.9,341.26 327.65,339.19 326.32,337.22 324.92,335.38 323.48,333.7 322.02,332.21 320.57,330.94 319.15,329.91 317.79,329.14 316.5,328.63 315.32,328.41 314.26,328.46 313.35,328.8" stroke="#000" stroke-width="1.1" fill="none" stroke-linejoin="round"/>
<polyline points="332.17,360.66 332.94,360.05 333.53,359.17 333.95,358.04 334.17,356.68 334.21,355.12 334.06,353.37 333.72,351.47 333.2,349.45 332.5,347.35 331.64,345.21 330.64,343.05 329.51,340.92 328.26,338.84 326.93,336.87 325.53,335.03 324.09,333.35 322.63,331.87 321.18,330.6 319.76,329.57 318.4,328.79 317.11,328.29 315.93,328.06 314.87,328.12 313.95,328.46" stroke="#000" stroke-width="1.2" fill="none" stroke-linejoin="round"/>
<polygon points="297.15,341.41 296.4,342.05 295.86,343.01 295.54,344.27 295.44,345.78 295.57,347.52 295.94,349.44 296.51,351.5 297.3,353.63 298.26,355.81 299.39,357.95 300.65,360.03 302.01,361.97 303.44,363.74 304.91,365.3 306.37,366.6 307.79,367.61 309.14,368.31 310.38,368.67 311.48,368.7 312.42,368.39 319.38,364.45 320.13,363.81 320.68,362.85 321,361.59 321.1,360.08 320.96,358.34 320.6,356.42 320.02,354.37 319.24,352.23 318.27,350.06 317.15,347.91 315.89,345.83 314.52,343.89 313.09,342.12 311.63,340.56 310.17,339.26 308.75,338.25 307.4,337.55 306.16,337.19 305.06,337.16 304.12,337.47" stroke="#000" stroke-width="1.2" fill="#fff" stroke-linejoin="round"/>
<polygon points="273.46,357.11 274.95,340.76 291.49,331.4 306.28,338.54 319.58,362.04 318.08,378.4 301.55,387.76 286.76,380.61" stroke="#000" stroke-width="1.2" fill="#fff" stroke-linejoin="round"/>
<polygon points="301.55,387.76 303.04,371.4 289.74,347.9 274.95,340.76 273.46,357.11 286.76,380.61" stroke="#000" stroke-width="1.2" fill="none" stroke-linejoin="round"/>
<line x1="301.55" y1="387.76" x2="318.08" y2="378.4" stroke="#000" stroke-width="1.2"/>
<line x1="303.04" y1="371.4" x2="319.58" y2="362.04" stroke="#000" stroke-width="1.2"/>
<line x1="289.74" y1="347.9" x2="306.28" y2="338.54" stroke="#000" stroke-width="1.2"/>
<line x1="274.95" y1="340.76" x2="291.49" y2="331.4" stroke="#000" stroke-width="1.2"/>
<ellipse cx="0" cy="0" rx="21.5" ry="8.6" transform="translate(288.69 364.01) rotate(60.5)" stroke="#000" stroke-width="0.9" fill="none"/>
<polygon points="252.74,344.13 251.04,345.59 249.82,347.76 249.08,350.58 248.87,354 249.17,357.93 249.98,362.27 251.29,366.91 253.06,371.74 255.24,376.64 257.79,381.49 260.63,386.17 263.71,390.57 266.94,394.57 270.25,398.08 273.54,401.01 276.75,403.29 279.8,404.87 282.6,405.7 285.09,405.76 287.21,405.06 299.39,398.17 301.09,396.71 302.31,394.54 303.05,391.72 303.26,388.3 302.96,384.37 302.15,380.03 300.84,375.39 299.07,370.56 296.89,365.66 294.34,360.81 291.5,356.13 288.42,351.73 285.19,347.73 281.89,344.22 278.59,341.29 275.38,339.01 272.33,337.43 269.53,336.6 267.04,336.54 264.92,337.24" stroke="#000" stroke-width="1.2" fill="#fff" stroke-linejoin="round"/>
<polyline points="291.56,402.6 293,401.44 294.13,399.78 294.91,397.64 295.34,395.07 295.42,392.11 295.13,388.8 294.48,385.21 293.49,381.4 292.18,377.42 290.55,373.36 288.65,369.28 286.51,365.24 284.16,361.32 281.63,357.59 278.99,354.11 276.26,350.93 273.5,348.12 270.75,345.72 268.07,343.77 265.49,342.31 263.06,341.35 260.83,340.93 258.83,341.03 257.09,341.67" stroke="#000" stroke-width="0.9" fill="none" stroke-linejoin="round"/>
<polyline points="295.04,400.63 296.48,399.47 297.61,397.81 298.39,395.67 298.82,393.1 298.9,390.14 298.61,386.83 297.96,383.24 296.98,379.43 295.66,375.45 294.04,371.39 292.14,367.31 289.99,363.27 287.64,359.35 285.12,355.62 282.47,352.14 279.74,348.96 276.98,346.15 274.24,343.75 271.55,341.8 268.97,340.34 266.55,339.38 264.31,338.96 262.31,339.06 260.57,339.7" stroke="#000" stroke-width="0.9" fill="none" stroke-linejoin="round"/>
<polygon points="230.77,347.95 228.71,349.71 227.22,352.35 226.33,355.78 226.07,359.93 226.43,364.7 227.42,369.97 229.01,375.6 231.16,381.47 233.81,387.42 236.9,393.31 240.36,398.99 244.09,404.33 248.01,409.19 252.03,413.45 256.03,417.01 259.93,419.78 263.62,421.7 267.03,422.7 270.05,422.78 272.62,421.93 290.9,411.59 292.96,409.82 294.45,407.19 295.34,403.76 295.6,399.6 295.23,394.83 294.24,389.57 292.66,383.93 290.51,378.07 287.86,372.12 284.77,366.23 281.31,360.54 277.58,355.2 273.65,350.35 269.64,346.08 265.64,342.52 261.74,339.75 258.04,337.84 254.64,336.83 251.62,336.75 249.04,337.61" stroke="#000" stroke-width="1.2" fill="#fff" stroke-linejoin="round"/>
<ellipse cx="0" cy="0" rx="42.5" ry="17" transform="translate(251.7 384.94) rotate(60.5)" stroke="#000" stroke-width="1.2" fill="none"/>
<polyline points="280.46,417.5 282.21,416.09 283.57,414.07 284.53,411.48 285.05,408.35 285.14,404.76 284.79,400.74 284.01,396.38 282.81,391.75 281.21,386.93 279.24,381.99 276.93,377.03 274.32,372.13 271.47,367.38 268.4,362.85 265.19,358.62 261.88,354.76 258.53,351.35 255.19,348.43 251.93,346.06 248.8,344.29 245.86,343.13 243.14,342.61 240.71,342.74 238.6,343.52" stroke="#000" stroke-width="1.6" fill="none" stroke-linejoin="round"/>
<polyline points="283.07,416.02 284.82,414.61 286.18,412.59 287.14,410 287.66,406.88 287.75,403.28 287.4,399.27 286.62,394.91 285.42,390.27 283.82,385.45 281.85,380.52 279.54,375.56 276.94,370.66 274.08,365.9 271.01,361.37 267.8,357.14 264.49,353.28 261.14,349.87 257.8,346.95 254.54,344.59 251.41,342.81 248.47,341.65 245.75,341.13 243.32,341.26 241.21,342.04" stroke="#000" stroke-width="0.9" fill="none" stroke-linejoin="round"/>
<ellipse cx="0" cy="0" rx="39.5" ry="15.8" transform="translate(253 384.2) rotate(60.5)" stroke="#000" stroke-width="0.9" fill="none"/>
<ellipse cx="0" cy="0" rx="36.5" ry="14.6" transform="translate(254.31 383.46) rotate(60.5)" stroke="#000" stroke-width="1.6" fill="none"/>
<ellipse cx="0" cy="0" rx="33" ry="13.2" transform="translate(256.05 382.48) rotate(60.5)" stroke="#000" stroke-width="0.9" fill="none"/>
<line x1="242.37" y1="360.34" x2="247.37" y2="359.01" stroke="#000" stroke-width="0.9"/>
<line x1="245.33" y1="365.56" x2="250.17" y2="363.97" stroke="#000" stroke-width="0.9"/>
<line x1="265.03" y1="400.38" x2="268.88" y2="397.04" stroke="#000" stroke-width="0.9"/>
<line x1="267.98" y1="405.6" x2="271.69" y2="402" stroke="#000" stroke-width="0.9"/>
<polygon points="222.83,363.36 221.23,364.73 220.07,366.77 219.38,369.44 219.18,372.66 219.46,376.36 220.23,380.45 221.46,384.83 223.13,389.38 225.19,394 227.59,398.58 230.27,402.99 233.17,407.14 236.22,410.91 239.33,414.22 242.44,416.98 245.47,419.14 248.34,420.62 250.98,421.4 253.33,421.46 255.33,420.8 257.94,419.32 259.53,417.95 260.69,415.91 261.38,413.24 261.59,410.02 261.3,406.31 260.53,402.22 259.3,397.85 257.63,393.29 255.58,388.67 253.17,384.1 250.49,379.69 247.59,375.54 244.55,371.77 241.43,368.46 238.32,365.7 235.29,363.54 232.42,362.06 229.78,361.28 227.43,361.22 225.44,361.88" stroke="#000" stroke-width="1.2" fill="#fff" stroke-linejoin="round"/>
<ellipse cx="0" cy="0" rx="33" ry="13.2" transform="translate(239.08 392.08) rotate(60.5)" stroke="#000" stroke-width="1.2" fill="none"/>
<ellipse cx="0" cy="0" rx="22.5" ry="9" transform="translate(239.95 391.59) rotate(60.5)" stroke="#000" stroke-width="1.6" fill="none"/>
<polygon points="213.49,386.45 212.64,387.18 212.02,388.26 211.66,389.67 211.55,391.38 211.7,393.35 212.11,395.52 212.76,397.84 213.65,400.25 214.74,402.7 216.01,405.13 217.43,407.47 218.97,409.67 220.59,411.67 222.24,413.42 223.89,414.89 225.49,416.03 227.02,416.82 228.42,417.23 229.66,417.26 230.72,416.91 247.26,407.56 248.1,406.83 248.72,405.74 249.08,404.33 249.19,402.62 249.04,400.66 248.63,398.49 247.98,396.17 247.1,393.75 246.01,391.3 244.73,388.88 243.31,386.54 241.77,384.34 240.16,382.34 238.5,380.58 236.85,379.12 235.25,377.98 233.73,377.19 232.33,376.77 231.08,376.74 230.02,377.09" stroke="#000" stroke-width="1.2" fill="#fff" stroke-linejoin="round"/>
<ellipse cx="0" cy="0" rx="17.5" ry="7" transform="translate(222.1 401.68) rotate(60.5)" stroke="#000" stroke-width="1.2" fill="none"/>
<polyline points="236.81,413.46 237.53,412.88 238.1,412.05 238.49,410.99 238.7,409.7 238.74,408.22 238.6,406.57 238.28,404.77 237.78,402.86 237.12,400.88 236.31,398.85 235.36,396.8 234.29,394.79 233.11,392.83 231.85,390.96 230.53,389.22 229.16,387.63 227.78,386.23 226.41,385.03 225.07,384.05 223.78,383.32 222.57,382.84 221.45,382.63 220.45,382.68 219.58,383" stroke="#000" stroke-width="1.6" fill="none" stroke-linejoin="round"/>
<polygon points="181.47,383.88 179.75,385.36 178.51,387.55 177.77,390.42 177.54,393.89 177.85,397.88 178.68,402.27 180,406.98 181.8,411.88 184.01,416.85 186.59,421.77 189.48,426.52 192.6,430.98 195.88,435.04 199.23,438.6 202.57,441.57 205.83,443.89 208.92,445.48 211.76,446.32 214.28,446.39 216.43,445.68 239.85,432.43 241.56,430.96 242.81,428.76 243.55,425.89 243.77,422.42 243.46,418.44 242.64,414.04 241.31,409.33 239.52,404.43 237.31,399.46 234.72,394.54 231.84,389.79 228.72,385.33 225.44,381.28 222.09,377.71 218.74,374.74 215.49,372.43 212.4,370.83 209.56,369.99 207.03,369.92 204.88,370.63" stroke="#000" stroke-width="1.2" fill="#fff" stroke-linejoin="round"/>
<ellipse cx="0" cy="0" rx="35.5" ry="14.2" transform="translate(198.95 414.78) rotate(60.5)" stroke="#000" stroke-width="1.2" fill="none"/>
<polyline points="218.26,444.64 219.72,443.47 220.86,441.78 221.66,439.61 222.1,437.01 222.17,434 221.88,430.65 221.23,427.01 220.22,423.14 218.89,419.11 217.24,414.99 215.31,410.85 213.14,406.75 210.75,402.78 208.19,398.99 205.51,395.46 202.74,392.24 199.94,389.39 197.16,386.95 194.43,384.98 191.82,383.49 189.36,382.52 187.09,382.09 185.06,382.2 183.3,382.85" stroke="#000" stroke-width="1.8" fill="none" stroke-linejoin="round"/>
<polyline points="227.4,439.47 228.86,438.29 230,436.61 230.8,434.44 231.24,431.84 231.31,428.83 231.02,425.48 230.37,421.84 229.36,417.97 228.03,413.94 226.38,409.82 224.45,405.67 222.28,401.58 219.89,397.61 217.33,393.82 214.65,390.29 211.88,387.07 209.08,384.22 206.3,381.78 203.57,379.8 200.96,378.32 198.5,377.35 196.23,376.92 194.2,377.03 192.44,377.68" stroke="#000" stroke-width="0.9" fill="none" stroke-linejoin="round"/>
<polyline points="229.14,438.49 230.6,437.31 231.74,435.62 232.54,433.46 232.98,430.85 233.05,427.85 232.76,424.49 232.11,420.85 231.1,416.98 229.77,412.95 228.12,408.83 226.19,404.69 224.02,400.6 221.63,396.62 219.07,392.84 216.39,389.31 213.62,386.08 210.82,383.23 208.04,380.8 205.31,378.82 202.7,377.34 200.24,376.37 197.97,375.93 195.94,376.04 194.18,376.69" stroke="#000" stroke-width="0.9" fill="none" stroke-linejoin="round"/>
<line x1="196.39" y1="380.61" x2="207.1" y2="374.55" stroke="#000" stroke-width="0.9"/>
<line x1="226.92" y1="434.57" x2="237.63" y2="428.51" stroke="#000" stroke-width="0.9"/>
<polygon points="185.05,408.28 184.45,408.8 184.01,409.58 183.75,410.59 183.67,411.81 183.78,413.21 184.07,414.76 184.53,416.42 185.16,418.14 185.94,419.89 186.85,421.62 187.87,423.3 188.97,424.86 190.12,426.29 191.3,427.55 192.48,428.6 193.63,429.41 194.71,429.97 195.71,430.27 196.6,430.29 197.36,430.04 205.11,425.66 205.71,425.14 206.15,424.36 206.41,423.35 206.49,422.13 206.38,420.73 206.09,419.18 205.62,417.52 204.99,415.8 204.21,414.05 203.3,412.32 202.29,410.65 201.19,409.08 200.03,407.65 198.85,406.39 197.68,405.34 196.53,404.53 195.44,403.97 194.44,403.67 193.55,403.65 192.8,403.9" stroke="#000" stroke-width="1.2" fill="#fff" stroke-linejoin="round"/>
<ellipse cx="0" cy="0" rx="12.5" ry="5" transform="translate(191.21 419.16) rotate(60.5)" stroke="#000" stroke-width="1.2" fill="none"/>
<ellipse cx="0" cy="0" rx="8" ry="3.2" transform="translate(192.08 418.67) rotate(60.5)" stroke="#000" stroke-width="0.9" fill="none"/>
<ellipse cx="0" cy="0" rx="3" ry="1.2" transform="translate(192.51 418.42) rotate(60.5)" stroke="#000" stroke-width="0.9" fill="#000"/>
<polygon points="323.63,915.4 323.17,915.8 322.83,916.39 322.63,917.16 322.58,918.08 322.66,919.15 322.88,920.33 323.23,921.59 323.71,922.9 324.31,924.23 325,925.54 325.77,926.81 326.6,928.01 327.48,929.09 328.38,930.05 329.27,930.84 330.15,931.46 330.97,931.89 331.73,932.11 332.41,932.13 332.98,931.94 356.92,918.4 357.38,918 357.71,917.42 357.91,916.65 357.97,915.72 357.89,914.65 357.66,913.48 357.31,912.22 356.83,910.91 356.24,909.58 355.55,908.26 354.77,906.99 353.94,905.8 353.06,904.71 352.17,903.76 351.27,902.96 350.4,902.34 349.57,901.91 348.81,901.69 348.14,901.67 347.56,901.86" stroke="#000" stroke-width="1.1" fill="#000" stroke-linejoin="round"/>
<polygon points="347.56,901.86 347.1,902.26 346.77,902.85 346.57,903.61 346.51,904.54 346.59,905.61 346.81,906.78 347.17,908.04 347.65,909.36 348.24,910.69 348.93,912 349.7,913.27 350.54,914.47 351.42,915.55 352.31,916.5 353.21,917.3 354.08,917.92 354.91,918.35 355.67,918.57 356.34,918.59 356.92,918.4 361.27,915.94 361.73,915.54 362.06,914.95 362.26,914.19 362.32,913.26 362.24,912.19 362.02,911.02 361.66,909.76 361.18,908.44 360.59,907.11 359.9,905.8 359.13,904.53 358.29,903.33 357.41,902.25 356.52,901.3 355.62,900.5 354.75,899.88 353.92,899.45 353.16,899.23 352.49,899.21 351.91,899.4" stroke="#000" stroke-width="1.1" fill="#fff" stroke-linejoin="round"/>
<ellipse cx="0" cy="0" rx="9.5" ry="3.8" transform="translate(352.24 910.13) rotate(60.5)" stroke="#000" stroke-width="1.1" fill="none"/>
<polyline points="356.92,918.4 357.31,918.08 357.61,917.63 357.83,917.05 357.94,916.36 357.96,915.55 357.89,914.65 357.71,913.68 357.44,912.64 357.09,911.57 356.64,910.46 356.13,909.36 355.55,908.26 354.91,907.2 354.22,906.18 353.5,905.24 352.76,904.38 352.02,903.61 351.27,902.96 350.54,902.43 349.84,902.03 349.18,901.78 348.58,901.66 348.03,901.69 347.56,901.86" stroke="#000" stroke-width="1.1" fill="none" stroke-linejoin="round"/>
<polygon points="321.88,918.4 321.5,918.73 321.23,919.21 321.07,919.83 321.02,920.59 321.09,921.46 321.27,922.42 321.56,923.45 321.95,924.52 322.43,925.6 323,926.68 323.63,927.71 324.31,928.69 325.02,929.57 325.75,930.35 326.48,931 327.2,931.5 327.87,931.85 328.49,932.04 329.04,932.05 329.51,931.9 332.99,929.93 333.37,929.6 333.64,929.12 333.8,928.5 333.85,927.74 333.78,926.87 333.6,925.91 333.31,924.88 332.92,923.81 332.44,922.73 331.87,921.65 331.24,920.62 330.56,919.64 329.85,918.76 329.11,917.98 328.38,917.33 327.67,916.83 327,916.48 326.38,916.29 325.83,916.28 325.36,916.44" stroke="#000" stroke-width="1.1" fill="#fff" stroke-linejoin="round"/>
<polygon points="310.03,926.26 310.78,918.08 319.05,913.4 326.44,916.97 333.09,928.72 332.34,936.9 324.07,941.58 316.68,938.01" stroke="#000" stroke-width="1.1" fill="#fff" stroke-linejoin="round"/>
<polygon points="324.07,941.58 324.82,933.4 318.17,921.65 310.78,918.08 310.03,926.26 316.68,938.01" stroke="#000" stroke-width="1.1" fill="none" stroke-linejoin="round"/>
<line x1="324.07" y1="941.58" x2="332.34" y2="936.9" stroke="#000" stroke-width="1.1"/>
<line x1="324.82" y1="933.4" x2="333.09" y2="928.72" stroke="#000" stroke-width="1.1"/>
<line x1="318.17" y1="921.65" x2="326.44" y2="916.97" stroke="#000" stroke-width="1.1"/>
<line x1="310.78" y1="918.08" x2="319.05" y2="913.4" stroke="#000" stroke-width="1.1"/>
<ellipse cx="0" cy="0" rx="10.75" ry="4.3" transform="translate(317.64 929.7) rotate(60.5)" stroke="#000" stroke-width="0.83" fill="none"/>
<polygon points="299.67,919.77 298.82,920.49 298.21,921.58 297.84,922.99 297.73,924.7 297.88,926.67 298.29,928.83 298.95,931.15 299.83,933.57 300.92,936.02 302.19,938.45 303.62,940.79 305.15,942.98 306.77,944.98 308.42,946.74 310.07,948.21 311.68,949.35 313.2,950.13 314.6,950.55 315.84,950.58 316.9,950.23 323,946.78 323.84,946.06 324.46,944.97 324.82,943.56 324.93,941.85 324.78,939.88 324.37,937.72 323.72,935.4 322.84,932.98 321.74,930.53 320.47,928.1 319.05,925.76 317.51,923.57 315.9,921.57 314.24,919.81 312.59,918.34 310.99,917.2 309.47,916.42 308.07,916 306.82,915.97 305.76,916.32" stroke="#000" stroke-width="1.1" fill="#fff" stroke-linejoin="round"/>
<polyline points="319.08,949 319.8,948.42 320.36,947.59 320.76,946.52 320.97,945.23 321.01,943.75 320.86,942.1 320.54,940.3 320.05,938.4 319.39,936.41 318.58,934.38 317.63,932.34 316.55,930.32 315.38,928.36 314.12,926.5 312.79,924.75 311.43,923.17 310.05,921.76 308.68,920.56 307.33,919.59 306.05,918.85 304.83,918.38 303.72,918.16 302.71,918.22 301.84,918.54" stroke="#000" stroke-width="0.83" fill="none" stroke-linejoin="round"/>
<polyline points="320.82,948.01 321.54,947.43 322.1,946.6 322.5,945.54 322.71,944.25 322.75,942.77 322.6,941.12 322.28,939.32 321.79,937.41 321.13,935.43 320.32,933.4 319.37,931.35 318.3,929.34 317.12,927.38 315.86,925.51 314.53,923.77 313.17,922.18 311.79,920.78 310.42,919.58 309.08,918.6 307.79,917.87 306.57,917.39 305.46,917.18 304.45,917.23 303.59,917.55" stroke="#000" stroke-width="0.83" fill="none" stroke-linejoin="round"/>
<polygon points="288.68,921.67 287.66,922.56 286.91,923.87 286.47,925.59 286.33,927.67 286.52,930.05 287.01,932.68 287.81,935.5 288.88,938.43 290.2,941.41 291.75,944.35 293.48,947.2 295.35,949.86 297.31,952.29 299.31,954.43 301.32,956.21 303.26,957.59 305.11,958.55 306.81,959.05 308.33,959.09 309.61,958.66 318.75,953.49 319.78,952.61 320.52,951.29 320.97,949.58 321.1,947.5 320.92,945.12 320.42,942.48 319.63,939.67 318.56,936.73 317.23,933.76 315.68,930.81 313.96,927.97 312.09,925.3 310.13,922.87 308.12,920.74 306.12,918.96 304.17,917.58 302.32,916.62 300.62,916.12 299.11,916.08 297.82,916.5" stroke="#000" stroke-width="1.1" fill="#fff" stroke-linejoin="round"/>
<ellipse cx="0" cy="0" rx="21.25" ry="8.5" transform="translate(299.15 940.17) rotate(60.5)" stroke="#000" stroke-width="1.1" fill="none"/>
<polyline points="313.53,956.45 314.4,955.74 315.09,954.73 315.56,953.44 315.83,951.88 315.87,950.08 315.69,948.07 315.3,945.89 314.7,943.58 313.9,941.16 312.92,938.7 311.76,936.22 310.46,933.77 309.03,931.39 307.5,929.12 305.89,927.01 304.24,925.08 302.56,923.37 300.9,921.92 299.27,920.73 297.7,919.84 296.23,919.26 294.87,919 293.66,919.07 292.6,919.46" stroke="#000" stroke-width="0.96" fill="none" stroke-linejoin="round"/>
<polyline points="314.83,955.71 315.71,955 316.39,954 316.87,952.7 317.13,951.14 317.18,949.34 317,947.33 316.61,945.15 316.01,942.84 315.21,940.43 314.22,937.96 313.07,935.48 311.77,933.03 310.34,930.65 308.81,928.38 307.2,926.27 305.54,924.34 303.87,922.63 302.2,921.18 300.57,919.99 299.01,919.1 297.53,918.53 296.18,918.27 294.96,918.33 293.91,918.72" stroke="#000" stroke-width="0.83" fill="none" stroke-linejoin="round"/>
<ellipse cx="0" cy="0" rx="19.75" ry="7.9" transform="translate(299.8 939.8) rotate(60.5)" stroke="#000" stroke-width="0.83" fill="none"/>
<ellipse cx="0" cy="0" rx="18.25" ry="7.3" transform="translate(300.45 939.43) rotate(60.5)" stroke="#000" stroke-width="0.96" fill="none"/>
<ellipse cx="0" cy="0" rx="16.5" ry="6.6" transform="translate(301.32 938.94) rotate(60.5)" stroke="#000" stroke-width="0.83" fill="none"/>
<line x1="294.49" y1="927.87" x2="296.98" y2="927.2" stroke="#000" stroke-width="0.83"/>
<line x1="295.96" y1="930.48" x2="298.39" y2="929.68" stroke="#000" stroke-width="0.83"/>
<line x1="305.81" y1="947.89" x2="307.74" y2="946.22" stroke="#000" stroke-width="0.83"/>
<line x1="307.29" y1="950.5" x2="309.15" y2="948.7" stroke="#000" stroke-width="0.83"/>
<polygon points="284.71,929.38 283.91,930.06 283.34,931.09 282.99,932.42 282.89,934.03 283.03,935.88 283.41,937.93 284.03,940.12 284.86,942.39 285.89,944.7 287.09,946.99 288.43,949.2 289.89,951.27 291.41,953.15 292.97,954.81 294.52,956.19 296.03,957.27 297.47,958.01 298.79,958.4 299.96,958.43 300.96,958.1 302.27,957.36 303.07,956.68 303.65,955.65 303.99,954.32 304.09,952.71 303.95,950.86 303.57,948.81 302.95,946.62 302.12,944.35 301.09,942.04 299.89,939.75 298.55,937.54 297.1,935.47 295.57,933.58 294.01,931.93 292.46,930.55 290.95,929.47 289.51,928.73 288.19,928.34 287.02,928.31 286.02,928.64" stroke="#000" stroke-width="1.1" fill="#fff" stroke-linejoin="round"/>
<ellipse cx="0" cy="0" rx="16.5" ry="6.6" transform="translate(292.84 943.74) rotate(60.5)" stroke="#000" stroke-width="1.1" fill="none"/>
<ellipse cx="0" cy="0" rx="11.25" ry="4.5" transform="translate(293.27 943.49) rotate(60.5)" stroke="#000" stroke-width="0.96" fill="none"/>
<polygon points="280.04,940.92 279.62,941.29 279.31,941.83 279.13,942.54 279.08,943.39 279.15,944.37 279.35,945.46 279.68,946.62 280.12,947.83 280.67,949.05 281.31,950.26 282.02,951.43 282.79,952.53 283.59,953.53 284.42,954.41 285.24,955.14 286.05,955.71 286.81,956.11 287.51,956.32 288.13,956.33 288.66,956.16 296.93,951.48 297.35,951.11 297.66,950.57 297.84,949.87 297.9,949.01 297.82,948.03 297.62,946.94 297.29,945.78 296.85,944.58 296.3,943.35 295.67,942.14 294.95,940.97 294.19,939.87 293.38,938.87 292.55,937.99 291.73,937.26 290.92,936.69 290.16,936.29 289.46,936.09 288.84,936.07 288.31,936.25" stroke="#000" stroke-width="1.1" fill="#fff" stroke-linejoin="round"/>
<ellipse cx="0" cy="0" rx="8.75" ry="3.5" transform="translate(284.35 948.54) rotate(60.5)" stroke="#000" stroke-width="1.1" fill="none"/>
<polyline points="291.71,954.43 292.07,954.14 292.35,953.73 292.54,953.19 292.65,952.55 292.67,951.81 292.6,950.98 292.44,950.09 292.19,949.13 291.86,948.14 291.46,947.12 290.98,946.1 290.44,945.09 289.86,944.11 289.23,943.18 288.56,942.31 287.88,941.52 287.19,940.81 286.51,940.21 285.83,939.73 285.19,939.36 284.58,939.12 284.02,939.01 283.52,939.04 283.09,939.2" stroke="#000" stroke-width="0.96" fill="none" stroke-linejoin="round"/>
<polygon points="264.04,939.64 263.18,940.38 262.55,941.48 262.18,942.91 262.07,944.65 262.23,946.64 262.64,948.84 263.3,951.19 264.2,953.64 265.31,956.13 266.6,958.59 268.04,960.96 269.6,963.19 271.24,965.22 272.91,967 274.59,968.49 276.21,969.64 277.76,970.44 279.18,970.86 280.44,970.89 281.52,970.54 293.22,963.92 294.08,963.18 294.7,962.08 295.08,960.64 295.19,958.91 295.03,956.92 294.62,954.72 293.96,952.36 293.06,949.92 291.95,947.43 290.66,944.97 289.22,942.6 287.66,940.37 286.02,938.34 284.34,936.56 282.67,935.07 281.04,933.91 279.5,933.11 278.08,932.69 276.82,932.66 275.74,933.02" stroke="#000" stroke-width="1.1" fill="#fff" stroke-linejoin="round"/>
<ellipse cx="0" cy="0" rx="17.75" ry="7.1" transform="translate(272.78 955.09) rotate(60.5)" stroke="#000" stroke-width="1.1" fill="none"/>
<polyline points="282.43,970.02 283.16,969.43 283.73,968.59 284.13,967.51 284.35,966.2 284.39,964.7 284.24,963.02 283.91,961.2 283.41,959.27 282.74,957.25 281.92,955.19 280.96,953.12 279.87,951.08 278.68,949.09 277.4,947.2 276.05,945.43 274.67,943.82 273.27,942.39 271.88,941.18 270.52,940.19 269.21,939.45 267.98,938.96 266.85,938.75 265.83,938.8 264.95,939.12" stroke="#000" stroke-width="1.08" fill="none" stroke-linejoin="round"/>
<polyline points="287,967.44 287.73,966.85 288.3,966 288.7,964.92 288.92,963.62 288.96,962.12 288.81,960.44 288.48,958.62 287.98,956.68 287.31,954.67 286.49,952.61 285.53,950.54 284.44,948.49 283.24,946.5 281.97,944.61 280.62,942.85 279.24,941.23 277.84,939.81 276.45,938.59 275.09,937.6 273.78,936.86 272.55,936.38 271.42,936.16 270.4,936.21 269.52,936.54" stroke="#000" stroke-width="0.83" fill="none" stroke-linejoin="round"/>
<polyline points="287.87,966.94 288.6,966.36 289.17,965.51 289.57,964.43 289.79,963.13 289.83,961.62 289.68,959.95 289.35,958.13 288.85,956.19 288.18,954.18 287.36,952.12 286.4,950.04 285.31,948 284.12,946.01 282.84,944.12 281.49,942.35 280.11,940.74 278.71,939.32 277.32,938.1 275.96,937.11 274.65,936.37 273.42,935.88 272.29,935.67 271.27,935.72 270.39,936.05" stroke="#000" stroke-width="0.83" fill="none" stroke-linejoin="round"/>
<line x1="271.5" y1="938" x2="276.85" y2="934.98" stroke="#000" stroke-width="0.83"/>
<line x1="286.76" y1="964.99" x2="292.11" y2="961.96" stroke="#000" stroke-width="0.83"/>
<polygon points="265.83,951.84 265.52,952.1 265.3,952.49 265.17,952.99 265.13,953.6 265.19,954.3 265.33,955.08 265.57,955.91 265.88,956.77 266.27,957.65 266.73,958.51 267.24,959.35 267.78,960.13 268.36,960.85 268.95,961.47 269.54,962 270.11,962.41 270.66,962.69 271.16,962.83 271.6,962.85 271.98,962.72 275.85,960.53 276.16,960.27 276.38,959.88 276.51,959.38 276.54,958.77 276.49,958.07 276.35,957.29 276.11,956.46 275.8,955.6 275.41,954.72 274.95,953.86 274.44,953.02 273.89,952.24 273.32,951.52 272.73,950.9 272.14,950.37 271.56,949.96 271.02,949.68 270.52,949.54 270.08,949.52 269.7,949.65" stroke="#000" stroke-width="1.1" fill="#fff" stroke-linejoin="round"/>
<ellipse cx="0" cy="0" rx="6.25" ry="2.5" transform="translate(268.9 957.28) rotate(60.5)" stroke="#000" stroke-width="1.1" fill="none"/>
<ellipse cx="0" cy="0" rx="4" ry="1.6" transform="translate(269.34 957.03) rotate(60.5)" stroke="#000" stroke-width="0.83" fill="none"/>
<ellipse cx="0" cy="0" rx="1.5" ry="0.6" transform="translate(269.56 956.91) rotate(60.5)" stroke="#000" stroke-width="0.83" fill="#000"/>
<circle cx="298.4" cy="939" r="43.2" stroke="#000" stroke-width="1" fill="none" stroke-dasharray="16 4 2 4"/>
<polygon points="400.94,849.55 399.75,850.64 398.93,852.3 398.5,854.48 398.48,857.14 398.87,860.22 399.65,863.62 400.81,867.28 402.31,871.1 404.13,874.98 406.21,878.84 408.51,882.57 410.96,886.09 413.52,889.3 416.11,892.13 418.67,894.51 421.14,896.38 423.45,897.69 425.56,898.42 427.4,898.54 428.94,898.05 440.2,891.55 441.39,890.46 442.21,888.8 442.64,886.62 442.66,883.95 442.27,880.88 441.49,877.47 440.33,873.82 438.83,870 437.01,866.11 434.93,862.26 432.63,858.53 430.17,855.01 427.62,851.8 425.03,848.97 422.47,846.59 420,844.72 417.69,843.41 415.58,842.68 413.74,842.56 412.2,843.05" stroke="#000" stroke-width="1.3" fill="#fff" stroke-linejoin="round"/>
<ellipse cx="0" cy="0" rx="28" ry="10.08" transform="translate(414.94 873.8) rotate(60)" stroke="#000" stroke-width="1.3" fill="none"/>
<ellipse cx="0" cy="0" rx="25.5" ry="9.18" transform="translate(415.81 873.3) rotate(60)" stroke="#000" stroke-width="0.9" fill="none"/>
<polyline points="438.03,892.8 439.05,891.93 439.82,890.67 440.31,889.02 440.52,887.03 440.46,884.72 440.11,882.13 439.48,879.31 438.59,876.31 437.46,873.17 436.09,869.96 434.52,866.72 432.76,863.51 430.86,860.39 428.84,857.41 426.74,854.61 424.59,852.06 422.44,849.79 420.31,847.84 418.24,846.24 416.27,845.03 414.44,844.22 412.77,843.82 411.29,843.85 410.03,844.3" stroke="#000" stroke-width="0.9" fill="none" stroke-linejoin="round"/>
<line x1="409.24" y1="860.93" x2="419.2" y2="855.18" stroke="#000" stroke-width="0.9"/>
<line x1="405.65" y1="849.72" x2="405.65" y2="849.72" stroke="#000" stroke-width="0.9"/>
<polygon points="389.79,865.23 388.93,866.01 388.35,867.19 388.04,868.75 388.03,870.65 388.31,872.85 388.86,875.28 389.69,877.89 390.77,880.62 392.06,883.4 393.55,886.15 395.19,888.82 396.95,891.33 398.77,893.62 400.62,895.64 402.45,897.34 404.21,898.68 405.86,899.62 407.37,900.13 408.69,900.22 409.79,899.87 425.37,890.87 426.23,890.09 426.81,888.91 427.11,887.35 427.13,885.45 426.85,883.25 426.3,880.82 425.47,878.21 424.39,875.48 423.1,872.7 421.61,869.95 419.97,867.28 418.21,864.77 416.39,862.48 414.54,860.46 412.71,858.76 410.95,857.42 409.29,856.48 407.79,855.96 406.47,855.88 405.37,856.23" stroke="#000" stroke-width="1.3" fill="#fff" stroke-linejoin="round"/>
<polyline points="416.28,896.12 417.01,895.5 417.55,894.6 417.91,893.42 418.06,892 418.01,890.35 417.76,888.5 417.32,886.49 416.68,884.34 415.87,882.1 414.89,879.81 413.77,877.49 412.52,875.2 411.16,872.97 409.72,870.84 408.21,868.85 406.68,867.02 405.14,865.4 403.62,864.01 402.14,862.87 400.74,862 399.43,861.42 398.23,861.14 397.18,861.16 396.28,861.48" stroke="#000" stroke-width="0.9" fill="none" stroke-linejoin="round"/>
<polyline points="422.34,892.62 423.07,892 423.62,891.1 423.97,889.92 424.12,888.5 424.07,886.85 423.82,885 423.38,882.99 422.74,880.84 421.93,878.6 420.95,876.31 419.83,873.99 418.58,871.7 417.22,869.47 415.78,867.34 414.28,865.35 412.74,863.52 411.2,861.9 409.68,860.51 408.2,859.37 406.8,858.5 405.49,857.92 404.3,857.64 403.24,857.66 402.34,857.98" stroke="#000" stroke-width="0.9" fill="none" stroke-linejoin="round"/>
<polygon points="366.2,869.38 365,870.47 364.17,872.14 363.75,874.34 363.72,877.03 364.11,880.12 364.9,883.55 366.07,887.24 367.58,891.08 369.41,894.99 371.51,898.88 373.82,902.63 376.3,906.17 378.87,909.41 381.48,912.26 384.05,914.66 386.54,916.54 388.87,917.86 390.99,918.6 392.85,918.72 394.4,918.22 413.89,906.97 415.09,905.88 415.91,904.21 416.34,902.01 416.36,899.32 415.97,896.23 415.19,892.8 414.02,889.11 412.5,885.27 410.67,881.36 408.58,877.47 406.26,873.72 403.79,870.18 401.22,866.94 398.61,864.09 396.03,861.69 393.55,859.81 391.21,858.49 389.09,857.75 387.23,857.63 385.69,858.13" stroke="#000" stroke-width="1.3" fill="#fff" stroke-linejoin="round"/>
<ellipse cx="0" cy="0" rx="28.2" ry="10.15" transform="translate(380.3 893.8) rotate(60)" stroke="#000" stroke-width="1.3" fill="none"/>
<ellipse cx="0" cy="0" rx="26.3" ry="9.47" transform="translate(381.34 893.2) rotate(60)" stroke="#000" stroke-width="0.9" fill="#000"/>
<polygon points="466.36,749.65 466.2,749.79 466.08,750.01 466.02,750.3 466.01,750.65 466.05,751.05 466.14,751.49 466.28,751.96 466.47,752.45 466.7,752.96 466.97,753.45 467.26,753.93 467.58,754.38 467.91,754.8 468.25,755.16 468.58,755.46 468.9,755.7 469.21,755.86 469.49,755.95 469.74,755.96 469.94,755.9 490.24,744.25 490.41,744.11 490.52,743.89 490.59,743.6 490.6,743.25 490.56,742.86 490.46,742.41 490.32,741.94 490.13,741.45 489.9,740.94 489.64,740.45 489.34,739.97 489.03,739.52 488.69,739.1 488.36,738.74 488.02,738.44 487.7,738.2 487.39,738.04 487.11,737.95 486.87,737.94 486.66,738.01" stroke="#000" stroke-width="1.3" fill="#fff" stroke-linejoin="round"/>
<ellipse cx="0" cy="0" rx="3.6" ry="1.37" transform="translate(468.15 752.77) rotate(60.16)" stroke="#000" stroke-width="1.3" fill="none"/>
<polygon points="458.87,748.65 458.5,748.98 458.23,749.47 458.09,750.12 458.06,750.92 458.15,751.83 458.36,752.83 458.69,753.91 459.12,755.03 459.64,756.18 460.25,757.31 460.92,758.4 461.64,759.43 462.39,760.37 463.16,761.19 463.92,761.88 464.66,762.42 465.36,762.8 465.99,763 466.56,763.03 467.03,762.87 472.23,759.89 472.61,759.56 472.87,759.06 473.02,758.41 473.04,757.62 472.95,756.71 472.74,755.7 472.41,754.62 471.98,753.5 471.46,752.35 470.86,751.22 470.18,750.13 469.46,749.1 468.71,748.16 467.94,747.34 467.18,746.65 466.44,746.11 465.74,745.73 465.11,745.53 464.55,745.5 464.07,745.66" stroke="#000" stroke-width="1.3" fill="#fff" stroke-linejoin="round"/>
<ellipse cx="0" cy="0" rx="8.2" ry="3.12" transform="translate(462.95 755.76) rotate(60.16)" stroke="#000" stroke-width="1.3" fill="none"/>
<ellipse cx="0" cy="0" rx="6" ry="2.28" transform="translate(464.25 755.01) rotate(60.16)" stroke="#000" stroke-width="0.8" fill="none"/>
<polyline points="470.06,761.13 470.38,760.87 470.63,760.49 470.79,759.99 470.87,759.4 470.87,758.72 470.78,757.95 470.61,757.12 470.37,756.23 470.04,755.31 469.65,754.36 469.2,753.41 468.69,752.47 468.13,751.55 467.54,750.68 466.92,749.86 466.29,749.12 465.64,748.46 465.01,747.89 464.39,747.43 463.8,747.08 463.25,746.85 462.74,746.74 462.29,746.76 461.9,746.9" stroke="#000" stroke-width="0.8" fill="none" stroke-linejoin="round"/>
<polygon points="415.53,779.62 415.4,779.73 415.31,779.91 415.26,780.14 415.25,780.42 415.28,780.74 415.35,781.1 415.47,781.48 415.62,781.88 415.81,782.28 416.02,782.68 416.26,783.07 416.51,783.43 416.78,783.76 417.05,784.05 417.32,784.3 417.58,784.49 417.83,784.62 418.05,784.69 418.25,784.7 418.42,784.65 464.39,758.27 464.52,758.16 464.62,757.98 464.67,757.75 464.68,757.47 464.64,757.15 464.57,756.79 464.46,756.41 464.3,756.01 464.12,755.61 463.9,755.21 463.67,754.82 463.41,754.46 463.15,754.13 462.87,753.84 462.6,753.59 462.34,753.4 462.1,753.27 461.87,753.2 461.67,753.19 461.51,753.24" stroke="#000" stroke-width="1.3" fill="#fff" stroke-linejoin="round"/>
<ellipse cx="0" cy="0" rx="2.9" ry="1.1" transform="translate(416.98 782.13) rotate(60.16)" stroke="#000" stroke-width="1.3" fill="none"/>
<polygon points="437.76,764.1 437.52,764.31 437.35,764.63 437.25,765.05 437.24,765.57 437.3,766.15 437.43,766.8 437.64,767.5 437.92,768.23 438.26,768.97 438.65,769.7 439.08,770.4 439.55,771.07 440.04,771.68 440.53,772.21 441.03,772.66 441.5,773 441.95,773.25 442.36,773.38 442.73,773.39 443.03,773.29 444.51,772.45 444.75,772.23 444.92,771.91 445.01,771.49 445.03,770.98 444.97,770.39 444.83,769.74 444.62,769.04 444.35,768.32 444.01,767.58 443.62,766.85 443.18,766.14 442.72,765.48 442.23,764.87 441.73,764.34 441.24,763.89 440.76,763.54 440.31,763.3 439.9,763.17 439.54,763.15 439.23,763.25" stroke="#000" stroke-width="1.3" fill="#fff" stroke-linejoin="round"/>
<ellipse cx="0" cy="0" rx="5.3" ry="2.01" transform="translate(440.4 768.7) rotate(60.16)" stroke="#000" stroke-width="1.3" fill="none"/>
<polygon points="434.46,765.99 434.22,766.2 434.05,766.52 433.96,766.95 433.94,767.46 434,768.04 434.14,768.7 434.35,769.39 434.62,770.12 434.96,770.86 435.35,771.59 435.79,772.3 436.25,772.96 436.74,773.57 437.24,774.1 437.73,774.55 438.21,774.9 438.66,775.14 439.07,775.27 439.43,775.28 439.74,775.18 441.21,774.34 441.45,774.12 441.62,773.8 441.72,773.38 441.74,772.87 441.67,772.28 441.54,771.63 441.33,770.93 441.05,770.21 440.71,769.47 440.32,768.74 439.89,768.03 439.42,767.37 438.93,766.76 438.44,766.23 437.95,765.78 437.47,765.43 437.02,765.19 436.61,765.06 436.24,765.04 435.94,765.14" stroke="#000" stroke-width="1.3" fill="#fff" stroke-linejoin="round"/>
<ellipse cx="0" cy="0" rx="5.3" ry="2.01" transform="translate(437.1 770.59) rotate(60.16)" stroke="#000" stroke-width="1.3" fill="none"/>
<polygon points="430.92,768.25 430.69,768.46 430.52,768.77 430.43,769.17 430.42,769.66 430.47,770.23 430.61,770.86 430.81,771.53 431.07,772.23 431.4,772.94 431.78,773.64 432.19,774.32 432.64,774.96 433.11,775.54 433.59,776.06 434.06,776.49 434.52,776.82 434.95,777.06 435.35,777.18 435.7,777.2 435.99,777.1 437.47,776.25 437.7,776.05 437.86,775.74 437.96,775.33 437.97,774.84 437.91,774.28 437.78,773.65 437.58,772.98 437.31,772.28 436.99,771.57 436.61,770.87 436.19,770.19 435.75,769.55 435.28,768.96 434.8,768.45 434.33,768.02 433.87,767.68 433.43,767.45 433.04,767.33 432.69,767.31 432.39,767.41" stroke="#000" stroke-width="1.3" fill="#fff" stroke-linejoin="round"/>
<ellipse cx="0" cy="0" rx="5.1" ry="1.94" transform="translate(433.46 772.68) rotate(60.16)" stroke="#000" stroke-width="1.3" fill="none"/>
<polygon points="427.97,769.94 427.74,770.15 427.57,770.46 427.48,770.86 427.47,771.36 427.52,771.92 427.66,772.55 427.86,773.22 428.12,773.92 428.45,774.63 428.83,775.33 429.24,776.01 429.69,776.65 430.16,777.24 430.64,777.75 431.11,778.18 431.57,778.51 432.01,778.75 432.4,778.87 432.75,778.89 433.05,778.79 434.52,777.95 434.75,777.74 434.92,777.43 435.01,777.03 435.02,776.53 434.97,775.97 434.83,775.34 434.63,774.67 434.37,773.97 434.04,773.26 433.66,772.56 433.25,771.88 432.8,771.24 432.33,770.65 431.85,770.14 431.38,769.71 430.92,769.38 430.48,769.14 430.09,769.02 429.74,769 429.44,769.1" stroke="#000" stroke-width="1.3" fill="#fff" stroke-linejoin="round"/>
<ellipse cx="0" cy="0" rx="5.1" ry="1.94" transform="translate(430.51 774.37) rotate(60.16)" stroke="#000" stroke-width="1.3" fill="none"/>
<polygon points="421.06,774.37 420.84,774.56 420.69,774.85 420.61,775.22 420.59,775.67 420.65,776.19 420.77,776.77 420.95,777.39 421.2,778.03 421.5,778.69 421.85,779.34 422.23,779.96 422.64,780.55 423.08,781.09 423.52,781.56 423.95,781.96 424.38,782.27 424.78,782.48 425.14,782.6 425.46,782.61 425.73,782.53 427.21,781.68 427.42,781.49 427.57,781.21 427.66,780.83 427.67,780.38 427.62,779.86 427.5,779.28 427.31,778.66 427.07,778.02 426.77,777.36 426.42,776.71 426.03,776.09 425.62,775.5 425.19,774.96 424.75,774.49 424.31,774.09 423.89,773.78 423.49,773.57 423.12,773.45 422.8,773.44 422.53,773.53" stroke="#000" stroke-width="1.3" fill="#fff" stroke-linejoin="round"/>
<ellipse cx="0" cy="0" rx="4.7" ry="1.79" transform="translate(423.4 778.45) rotate(60.16)" stroke="#000" stroke-width="1.3" fill="none"/>
<polygon points="418.11,776.06 417.89,776.25 417.74,776.54 417.66,776.91 417.64,777.36 417.7,777.89 417.82,778.46 418,779.08 418.25,779.73 418.55,780.38 418.9,781.03 419.28,781.66 419.7,782.25 420.13,782.78 420.57,783.26 421,783.65 421.43,783.96 421.83,784.18 422.19,784.29 422.51,784.31 422.78,784.22 424.26,783.37 424.47,783.18 424.62,782.9 424.71,782.52 424.72,782.07 424.67,781.55 424.55,780.97 424.36,780.35 424.12,779.71 423.82,779.05 423.47,778.41 423.08,777.78 422.67,777.19 422.24,776.65 421.8,776.18 421.36,775.78 420.94,775.47 420.54,775.26 420.17,775.14 419.85,775.13 419.58,775.22" stroke="#000" stroke-width="1.3" fill="#fff" stroke-linejoin="round"/>
<ellipse cx="0" cy="0" rx="4.7" ry="1.79" transform="translate(420.45 780.14) rotate(60.16)" stroke="#000" stroke-width="1.3" fill="none"/>
<polygon points="409.68,781.47 409.49,781.64 409.36,781.9 409.28,782.23 409.27,782.64 409.32,783.1 409.42,783.62 409.59,784.17 409.81,784.75 410.08,785.33 410.39,785.91 410.73,786.47 411.1,787 411.49,787.48 411.88,787.9 412.27,788.25 412.65,788.53 413.01,788.72 413.33,788.83 413.62,788.84 413.86,788.76 419.07,785.77 419.26,785.61 419.39,785.35 419.47,785.02 419.48,784.61 419.43,784.15 419.32,783.63 419.16,783.08 418.94,782.5 418.67,781.92 418.36,781.34 418.02,780.78 417.65,780.25 417.26,779.77 416.87,779.35 416.48,778.99 416.1,778.72 415.74,778.52 415.42,778.42 415.13,778.41 414.89,778.49" stroke="#000" stroke-width="1.3" fill="#fff" stroke-linejoin="round"/>
<ellipse cx="0" cy="0" rx="4.2" ry="1.6" transform="translate(411.77 785.12) rotate(60.16)" stroke="#000" stroke-width="1.3" fill="none"/>
<polyline points="416.29,787.37 416.45,787.23 416.58,787.04 416.66,786.79 416.7,786.48 416.7,786.13 416.66,785.74 416.57,785.31 416.44,784.86 416.28,784.38 416.08,783.9 415.85,783.41 415.58,782.93 415.3,782.46 415,782.01 414.68,781.6 414.35,781.21 414.03,780.88 413.7,780.59 413.39,780.35 413.08,780.17 412.8,780.05 412.54,780 412.31,780.01 412.11,780.08" stroke="#000" stroke-width="0.8" fill="none" stroke-linejoin="round"/>
<polyline points="409.78,781.65 405.6,786.81 405.79,788.55 405.6,788.18 405.47,787.81 405.4,787.47 405.4,787.17 405.47,786.95 405.6,786.81 405.78,786.77 406.01,786.83 406.26,786.97 406.52,787.21 406.77,787.51 407,787.85 407.19,789.59 413.76,788.59" stroke="#000" stroke-width="1.3" fill="#fff" stroke-linejoin="round"/>
<ellipse cx="0" cy="0" rx="8.6" ry="3" transform="translate(366.5 810) rotate(60)" stroke="#000" stroke-width="1.1" fill="none"/>
<ellipse cx="0" cy="0" rx="7" ry="2" transform="translate(367.71 809.3) rotate(60)" stroke="#000" stroke-width="0.8" fill="none"/>
<ellipse cx="0" cy="0" rx="8.6" ry="3" transform="translate(368.92 808.6) rotate(60)" stroke="#000" stroke-width="1.1" fill="none"/>
<ellipse cx="0" cy="0" rx="7" ry="2" transform="translate(370.14 807.9) rotate(60)" stroke="#000" stroke-width="0.8" fill="none"/>
<ellipse cx="0" cy="0" rx="8.6" ry="3" transform="translate(375.16 805) rotate(60)" stroke="#000" stroke-width="1.1" fill="none"/>
<ellipse cx="0" cy="0" rx="7" ry="2" transform="translate(376.37 804.3) rotate(60)" stroke="#000" stroke-width="0.8" fill="none"/>
<ellipse cx="0" cy="0" rx="8.6" ry="3" transform="translate(381.66 801.25) rotate(60)" stroke="#000" stroke-width="1.1" fill="none"/>
<ellipse cx="0" cy="0" rx="7" ry="2" transform="translate(382.87 800.55) rotate(60)" stroke="#000" stroke-width="0.8" fill="none"/>
<ellipse cx="0" cy="0" rx="8.6" ry="3" transform="translate(388.15 797.5) rotate(60)" stroke="#000" stroke-width="1.1" fill="none"/>
<ellipse cx="0" cy="0" rx="7" ry="2" transform="translate(389.36 796.8) rotate(60)" stroke="#000" stroke-width="0.8" fill="none"/>
<ellipse cx="0" cy="0" rx="8.6" ry="3" transform="translate(392.05 795.25) rotate(60)" stroke="#000" stroke-width="1.1" fill="none"/>
<ellipse cx="0" cy="0" rx="7" ry="2" transform="translate(393.26 794.55) rotate(60)" stroke="#000" stroke-width="0.8" fill="none"/>
<ellipse cx="0" cy="0" rx="8.6" ry="3" transform="translate(394.47 793.85) rotate(60)" stroke="#000" stroke-width="1.1" fill="none"/>
<ellipse cx="0" cy="0" rx="7" ry="2" transform="translate(395.68 793.15) rotate(60)" stroke="#000" stroke-width="0.8" fill="none"/>
<ellipse cx="0" cy="0" rx="7.4" ry="3.7" transform="translate(354.1 818.4) rotate(62)" stroke="#000" stroke-width="1.2" fill="none"/>
<ellipse cx="0" cy="0" rx="5" ry="1.7" transform="translate(354.1 818.4) rotate(62)" stroke="#000" stroke-width="1" fill="none"/>
<rect x="782" y="891" width="664" height="2.8" stroke="none" stroke-width="0" fill="#111"/>
<line x1="782" y1="892.4" x2="1446" y2="892.4" stroke="#fff" stroke-width="0.7" stroke-dasharray="1.5 2"/>
<rect x="782" y="911.3" width="664" height="3" stroke="none" stroke-width="0" fill="#111"/>
<line x1="782" y1="912.8" x2="1446" y2="912.8" stroke="#fff" stroke-width="0.7" stroke-dasharray="1.5 2"/>
<rect x="840" y="896.1" width="605.3" height="2.6" stroke="none" stroke-width="0" fill="#111"/>
<line x1="840" y1="897.4" x2="1445.3" y2="897.4" stroke="#fff" stroke-width="0.7" stroke-dasharray="1.5 2"/>
<rect x="840" y="906.2" width="605.3" height="2.6" stroke="none" stroke-width="0" fill="#111"/>
<line x1="840" y1="907.5" x2="1445.3" y2="907.5" stroke="#fff" stroke-width="0.7" stroke-dasharray="1.5 2"/>
<path d="M856,898.7 L878.5,898.7 Q881,898.7 881,902.5 Q881,906.2 878.5,906.2 L856,906.2" stroke="#000" stroke-width="1" fill="none" stroke-linejoin="round" stroke-linecap="round"/>
<path d="M1381,898.6 L1520.5,898.6 L1520.5,907.0 L1381,907.0 Q1378.5,907 1378.5,902.8 Q1378.5,898.6 1381,898.6 Z" stroke="#000" stroke-width="1" fill="#fff" stroke-linejoin="round" stroke-linecap="round"/>
<clipPath id="h444"><rect x="1445.3" y="880.7" width="13.9" height="17.9"/></clipPath>
<path d="M1427.4,880.7L1445.3,898.6M1431.6,880.7L1449.5,898.6M1435.8,880.7L1453.7,898.6M1440,880.7L1457.9,898.6M1444.2,880.7L1462.1,898.6M1448.4,880.7L1466.3,898.6M1452.6,880.7L1470.5,898.6M1456.8,880.7L1474.7,898.6M1461,880.7L1478.9,898.6M1465.2,880.7L1483.1,898.6M1469.4,880.7L1487.3,898.6M1473.6,880.7L1491.5,898.6" stroke="#000" stroke-width="0.9" clip-path="url(#h444)"/>
<rect x="1445.3" y="880.7" width="13.9" height="17.9" stroke="#000" stroke-width="1" fill="none"/>
<clipPath id="h447"><rect x="1445.3" y="907" width="13.9" height="16.6"/></clipPath>
<path d="M1428.7,907L1445.3,923.6M1432.9,907L1449.5,923.6M1437.1,907L1453.7,923.6M1441.3,907L1457.9,923.6M1445.5,907L1462.1,923.6M1449.7,907L1466.3,923.6M1453.9,907L1470.5,923.6M1458.1,907L1474.7,923.6M1462.3,907L1478.9,923.6M1466.5,907L1483.1,923.6M1470.7,907L1487.3,923.6M1474.9,907L1491.5,923.6" stroke="#000" stroke-width="0.9" clip-path="url(#h447)"/>
<rect x="1445.3" y="907" width="13.9" height="16.6" stroke="#000" stroke-width="1" fill="none"/>
<clipPath id="h450"><rect x="1459.2" y="888.8" width="38.1" height="9.8"/></clipPath>
<path d="M1449.4,888.8L1459.2,898.6M1453.6,888.8L1463.4,898.6M1457.8,888.8L1467.6,898.6M1462,888.8L1471.8,898.6M1466.2,888.8L1476,898.6M1470.4,888.8L1480.2,898.6M1474.6,888.8L1484.4,898.6M1478.8,888.8L1488.6,898.6M1483,888.8L1492.8,898.6M1487.2,888.8L1497,898.6M1491.4,888.8L1501.2,898.6M1495.6,888.8L1505.4,898.6M1499.8,888.8L1509.6,898.6M1504,888.8L1513.8,898.6" stroke="#000" stroke-width="0.9" clip-path="url(#h450)"/>
<rect x="1459.2" y="888.8" width="38.1" height="9.8" stroke="#000" stroke-width="1" fill="none"/>
<clipPath id="h453"><rect x="1459.2" y="907" width="38.1" height="9.1"/></clipPath>
<path d="M1450.1,907L1459.2,916.1M1454.3,907L1463.4,916.1M1458.5,907L1467.6,916.1M1462.7,907L1471.8,916.1M1466.9,907L1476,916.1M1471.1,907L1480.2,916.1M1475.3,907L1484.4,916.1M1479.5,907L1488.6,916.1M1483.7,907L1492.8,916.1M1487.9,907L1497,916.1M1492.1,907L1501.2,916.1M1496.3,907L1505.4,916.1M1500.5,907L1509.6,916.1M1504.7,907L1513.8,916.1" stroke="#000" stroke-width="0.9" clip-path="url(#h453)"/>
<rect x="1459.2" y="907" width="38.1" height="9.1" stroke="#000" stroke-width="1" fill="none"/>
<clipPath id="h456"><rect x="1380" y="898.6" width="140.5" height="8.4"/></clipPath>
<path d="M1371.6,907L1380,898.6M1376.2,907L1384.6,898.6M1380.8,907L1389.2,898.6M1385.4,907L1393.8,898.6M1390,907L1398.4,898.6M1394.6,907L1403,898.6M1399.2,907L1407.6,898.6M1403.8,907L1412.2,898.6M1408.4,907L1416.8,898.6M1413,907L1421.4,898.6M1417.6,907L1426,898.6M1422.2,907L1430.6,898.6M1426.8,907L1435.2,898.6M1431.4,907L1439.8,898.6M1436,907L1444.4,898.6M1440.6,907L1449,898.6M1445.2,907L1453.6,898.6M1449.8,907L1458.2,898.6M1454.4,907L1462.8,898.6M1459,907L1467.4,898.6M1463.6,907L1472,898.6M1468.2,907L1476.6,898.6M1472.8,907L1481.2,898.6M1477.4,907L1485.8,898.6M1482,907L1490.4,898.6M1486.6,907L1495,898.6M1491.2,907L1499.6,898.6M1495.8,907L1504.2,898.6M1500.4,907L1508.8,898.6M1505,907L1513.4,898.6M1509.6,907L1518,898.6M1514.2,907L1522.6,898.6M1518.8,907L1527.2,898.6M1523.4,907L1531.8,898.6M1528,907L1536.4,898.6" stroke="#000" stroke-width="1.1" clip-path="url(#h456)"/>
<rect x="1380" y="898.6" width="140.5" height="8.4" stroke="#000" stroke-width="1" fill="none"/>
<rect x="1452" y="882.8" width="3" height="2.4" stroke="none" stroke-width="0" fill="#000"/>
<rect x="1452" y="918.6" width="3" height="2.4" stroke="none" stroke-width="0" fill="#000"/>
<rect x="1478" y="894.8" width="3.2" height="2.4" stroke="none" stroke-width="0" fill="#000"/>
<rect x="1478" y="908.4" width="3.2" height="2.4" stroke="none" stroke-width="0" fill="#000"/>
<rect x="1410" y="898" width="6" height="9" stroke="#000" stroke-width="1" fill="#000"/>
<circle cx="1419" cy="905" r="1.6" stroke="#000" stroke-width="0.8" fill="#fff"/>
<rect x="812.4" y="874" width="16.6" height="17" stroke="#000" stroke-width="1" fill="#000"/>
<rect x="812.4" y="914.3" width="16.6" height="17" stroke="#000" stroke-width="1" fill="#000"/>
<clipPath id="h467"><rect x="829" y="874" width="8.5" height="17"/></clipPath>
<path d="M812,874L829,891M815.6,874L832.6,891M819.2,874L836.2,891M822.8,874L839.8,891M826.4,874L843.4,891M830,874L847,891M833.6,874L850.6,891M837.2,874L854.2,891M840.8,874L857.8,891M844.4,874L861.4,891M848,874L865,891M851.6,874L868.6,891" stroke="#000" stroke-width="0.95" clip-path="url(#h467)"/>
<rect x="829" y="874" width="8.5" height="17" stroke="#000" stroke-width="1" fill="none"/>
<clipPath id="h470"><rect x="829" y="914.3" width="8.5" height="16.9"/></clipPath>
<path d="M812.1,914.3L829,931.2M815.7,914.3L832.6,931.2M819.3,914.3L836.2,931.2M822.9,914.3L839.8,931.2M826.5,914.3L843.4,931.2M830.1,914.3L847,931.2M833.7,914.3L850.6,931.2M837.3,914.3L854.2,931.2M840.9,914.3L857.8,931.2M844.5,914.3L861.4,931.2M848.1,914.3L865,931.2M851.7,914.3L868.6,931.2" stroke="#000" stroke-width="0.95" clip-path="url(#h470)"/>
<rect x="829" y="914.3" width="8.5" height="16.9" stroke="#000" stroke-width="1" fill="none"/>
<clipPath id="h473"><rect x="837.5" y="882" width="14.8" height="9"/></clipPath>
<path d="M828.5,882L837.5,891M832.1,882L841.1,891M835.7,882L844.7,891M839.3,882L848.3,891M842.9,882L851.9,891M846.5,882L855.5,891M850.1,882L859.1,891M853.7,882L862.7,891M857.3,882L866.3,891M860.9,882L869.9,891" stroke="#000" stroke-width="0.95" clip-path="url(#h473)"/>
<rect x="837.5" y="882" width="14.8" height="9" stroke="#000" stroke-width="1" fill="none"/>
<clipPath id="h476"><rect x="837.5" y="914.3" width="14.8" height="8.3"/></clipPath>
<path d="M829.2,914.3L837.5,922.6M832.8,914.3L841.1,922.6M836.4,914.3L844.7,922.6M840,914.3L848.3,922.6M843.6,914.3L851.9,922.6M847.2,914.3L855.5,922.6M850.8,914.3L859.1,922.6M854.4,914.3L862.7,922.6M858,914.3L866.3,922.6" stroke="#000" stroke-width="0.95" clip-path="url(#h476)"/>
<rect x="837.5" y="914.3" width="14.8" height="8.3" stroke="#000" stroke-width="1" fill="none"/>
<clipPath id="h479"><rect x="852.3" y="876.6" width="20.2" height="14.4"/></clipPath>
<path d="M837.9,876.6L852.3,891M841.5,876.6L855.9,891M845.1,876.6L859.5,891M848.7,876.6L863.1,891M852.3,876.6L866.7,891M855.9,876.6L870.3,891M859.5,876.6L873.9,891M863.1,876.6L877.5,891M866.7,876.6L881.1,891M870.3,876.6L884.7,891M873.9,876.6L888.3,891M877.5,876.6L891.9,891M881.1,876.6L895.5,891M884.7,876.6L899.1,891" stroke="#000" stroke-width="0.95" clip-path="url(#h479)"/>
<rect x="852.3" y="876.6" width="20.2" height="14.4" stroke="#000" stroke-width="1" fill="none"/>
<clipPath id="h482"><rect x="852.3" y="914.3" width="20.2" height="13.7"/></clipPath>
<path d="M838.6,914.3L852.3,928M842.2,914.3L855.9,928M845.8,914.3L859.5,928M849.4,914.3L863.1,928M853,914.3L866.7,928M856.6,914.3L870.3,928M860.2,914.3L873.9,928M863.8,914.3L877.5,928M867.4,914.3L881.1,928M871,914.3L884.7,928M874.6,914.3L888.3,928M878.2,914.3L891.9,928M881.8,914.3L895.5,928M885.4,914.3L899.1,928" stroke="#000" stroke-width="0.95" clip-path="url(#h482)"/>
<rect x="852.3" y="914.3" width="20.2" height="13.7" stroke="#000" stroke-width="1" fill="none"/>
<ellipse cx="0" cy="0" rx="3.2" ry="3" transform="translate(860 884.5) rotate(0)" stroke="#000" stroke-width="1.2" fill="#000"/>
<ellipse cx="0" cy="0" rx="3.2" ry="3" transform="translate(860 920.5) rotate(0)" stroke="#000" stroke-width="1.2" fill="#000"/>
<rect x="763.4" y="880" width="18.6" height="44.6" stroke="#000" stroke-width="1.2" fill="#fff"/>
<clipPath id="h488"><rect x="765" y="882" width="15.5" height="5"/></clipPath>
<path d="M760,882L765,887M763,882L768,887M766,882L771,887M769,882L774,887M772,882L777,887M775,882L780,887M778,882L783,887M781,882L786,887M784,882L789,887" stroke="#000" stroke-width="0.95" clip-path="url(#h488)"/>
<rect x="765" y="882" width="15.5" height="5" stroke="#000" stroke-width="1" fill="none"/>
<clipPath id="h491"><rect x="765" y="917.5" width="15.5" height="5.3"/></clipPath>
<path d="M759.7,917.5L765,922.8M762.7,917.5L768,922.8M765.7,917.5L771,922.8M768.7,917.5L774,922.8M771.7,917.5L777,922.8M774.7,917.5L780,922.8M777.7,917.5L783,922.8M780.7,917.5L786,922.8M783.7,917.5L789,922.8" stroke="#000" stroke-width="0.95" clip-path="url(#h491)"/>
<rect x="765" y="917.5" width="15.5" height="5.3" stroke="#000" stroke-width="1" fill="none"/>
<rect x="766" y="889" width="13" height="8" stroke="#000" stroke-width="1" fill="none"/>
<rect x="766" y="908" width="13" height="8" stroke="#000" stroke-width="1" fill="none"/>
<line x1="757.9" y1="883" x2="757.9" y2="921.5" stroke="#000" stroke-width="1.8"/>
<rect x="732" y="883.7" width="15.3" height="37.3" stroke="#000" stroke-width="1.2" fill="#fff"/>
<clipPath id="h498"><rect x="740.5" y="885" width="6.8" height="11"/></clipPath>
<path d="M729.5,896L740.5,885M732.5,896L743.5,885M735.5,896L746.5,885M738.5,896L749.5,885M741.5,896L752.5,885M744.5,896L755.5,885M747.5,896L758.5,885M750.5,896L761.5,885M753.5,896L764.5,885M756.5,896L767.5,885" stroke="#000" stroke-width="0.95" clip-path="url(#h498)"/>
<rect x="740.5" y="885" width="6.8" height="11" stroke="#000" stroke-width="1" fill="none"/>
<clipPath id="h501"><rect x="740.5" y="909" width="6.8" height="11"/></clipPath>
<path d="M729.5,920L740.5,909M732.5,920L743.5,909M735.5,920L746.5,909M738.5,920L749.5,909M741.5,920L752.5,909M744.5,920L755.5,909M747.5,920L758.5,909M750.5,920L761.5,909M753.5,920L764.5,909M756.5,920L767.5,909" stroke="#000" stroke-width="0.95" clip-path="url(#h501)"/>
<rect x="740.5" y="909" width="6.8" height="11" stroke="#000" stroke-width="1" fill="none"/>
<rect x="733.5" y="886" width="6" height="8" stroke="#000" stroke-width="1" fill="none"/>
<rect x="733.5" y="911" width="6" height="8" stroke="#000" stroke-width="1" fill="none"/>
<rect x="747.3" y="896.1" width="65.1" height="2.2" stroke="none" stroke-width="0" fill="#111"/>
<line x1="747.3" y1="897.2" x2="812.4" y2="897.2" stroke="#fff" stroke-width="0.7" stroke-dasharray="1.5 2"/>
<rect x="747.3" y="906.4" width="65.1" height="2.2" stroke="none" stroke-width="0" fill="#111"/>
<line x1="747.3" y1="907.5" x2="812.4" y2="907.5" stroke="#fff" stroke-width="0.7" stroke-dasharray="1.5 2"/>
<rect x="782" y="891" width="30.4" height="2.8" stroke="none" stroke-width="0" fill="#111"/>
<line x1="782" y1="892.4" x2="812.4" y2="892.4" stroke="#fff" stroke-width="0.7" stroke-dasharray="1.5 2"/>
<rect x="782" y="911.3" width="30.4" height="3" stroke="none" stroke-width="0" fill="#111"/>
<line x1="782" y1="912.8" x2="812.4" y2="912.8" stroke="#fff" stroke-width="0.7" stroke-dasharray="1.5 2"/>
<path d="M732,896 L728.5,896 Q725.6,896 725.6,901.2 Q725.6,906.4 728.5,906.4 L732,906.4" stroke="#000" stroke-width="1.2" fill="none" stroke-linejoin="round" stroke-linecap="round"/>
<line x1="727" y1="901.2" x2="760" y2="901.2" stroke="#000" stroke-width="0.8"/>
<polyline points="784,898.6 792,901.8 784,906.2" stroke="#000" stroke-width="1" fill="none" stroke-linejoin="round"/>
<line x1="792" y1="901.8" x2="852" y2="901.8" stroke="#000" stroke-width="0.8"/>
<polyline points="790,896.5 800,899.5 808,899.5" stroke="#000" stroke-width="1" fill="none" stroke-linejoin="round"/>
<polyline points="790,908.5 800,905.5 808,905.5" stroke="#000" stroke-width="1" fill="none" stroke-linejoin="round"/>
<rect x="805" y="896.8" width="7" height="3" stroke="#000" stroke-width="1" fill="none"/>
<rect x="805" y="904.8" width="7" height="3" stroke="#000" stroke-width="1" fill="none"/>
<rect x="825" y="896.8" width="7" height="3" stroke="#000" stroke-width="1" fill="none"/>
<rect x="825" y="904.8" width="7" height="3" stroke="#000" stroke-width="1" fill="none"/>
<circle cx="818.5" cy="898.3" r="1.7" stroke="#000" stroke-width="0.8" fill="#000"/>
<circle cx="818.5" cy="906.3" r="1.7" stroke="#000" stroke-width="0.8" fill="#000"/>
<polyline points="836,900 838.5,896.5 841,900 843.5,896.5 846,900 848.5,896.5 851,900" stroke="#000" stroke-width="0.9" fill="none" stroke-linejoin="round"/>
<polyline points="836,908.5 838.5,905 841,908.5 843.5,905 846,908.5 848.5,905 851,908.5" stroke="#000" stroke-width="0.9" fill="none" stroke-linejoin="round"/>
</g>
</svg>
</body></html>
